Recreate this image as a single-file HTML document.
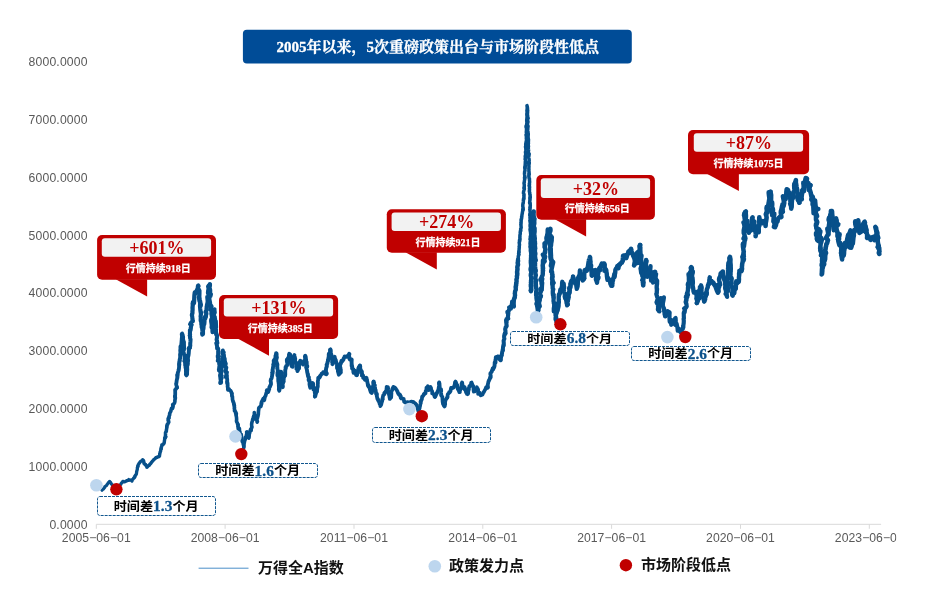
<!DOCTYPE html>
<html lang="zh-CN">
<head>
<meta charset="utf-8">
<title>2005年以来，5次重磅政策出台与市场阶段性低点</title>
<style>
html,body{margin:0;padding:0;background:#fff;}
body{width:933px;height:596px;overflow:hidden;position:relative;}
svg{position:absolute;left:0;top:0;display:block;will-change:transform;}
text{font-kerning:normal;}
.ax{font-family:"Liberation Sans",sans-serif;font-size:12.2px;letter-spacing:.17px;fill:#595959;}
.axx{letter-spacing:.04px;}
.lab{font-family:"Liberation Serif","Noto Sans CJK SC",sans-serif;font-weight:700;font-size:13.15px;fill:#000;}
.num{font-family:"Liberation Serif",serif;fill:#0d528b;stroke:#0d528b;stroke-width:.3px;font-size:15.4px;}
.pct{font-family:"Liberation Serif",serif;font-weight:700;font-size:18px;fill:#c00000;}
.dur{font-family:"Liberation Serif","Noto Sans CJK SC",sans-serif;font-weight:700;font-size:10px;fill:#fff;stroke:#fff;stroke-width:.25px;}
.dnum{font-family:"Liberation Serif",serif;}
.ttl{font-family:"Liberation Serif","Noto Serif CJK SC",serif;font-weight:700;font-size:15px;fill:#fff;stroke:#fff;stroke-width:.3px;}
.tnum{font-family:"Liberation Serif",serif;}
.leg{font-family:"Liberation Sans","Noto Sans CJK SC",sans-serif;font-weight:700;font-size:15px;fill:#111;}
</style>
</head>
<body>
<svg width="933" height="596" viewBox="0 0 933 596">
<defs><clipPath id="clipr"><rect x="0" y="0" width="896.4" height="596"/></clipPath></defs>
<g clip-path="url(#clipr)">
<text class="ax" x="87.7" y="528.8" text-anchor="end">0.0000</text>
<text class="ax" x="87.7" y="470.9" text-anchor="end">1000.0000</text>
<text class="ax" x="87.7" y="413.1" text-anchor="end">2000.0000</text>
<text class="ax" x="87.7" y="355.2" text-anchor="end">3000.0000</text>
<text class="ax" x="87.7" y="297.4" text-anchor="end">4000.0000</text>
<text class="ax" x="87.7" y="239.5" text-anchor="end">5000.0000</text>
<text class="ax" x="87.7" y="181.6" text-anchor="end">6000.0000</text>
<text class="ax" x="87.7" y="123.8" text-anchor="end">7000.0000</text>
<text class="ax" x="87.7" y="65.9" text-anchor="end">8000.0000</text>
<path d="M96.3 524.3 H881.1" stroke="#d9d9d9" stroke-width="1" fill="none"/>
<path d="M96.3 524.3 v4.5" stroke="#d9d9d9" stroke-width="1" fill="none"/>
<text class="ax axx" x="96.3" y="542" text-anchor="middle">2005−06−01</text>
<path d="M225.1 524.3 v4.5" stroke="#d9d9d9" stroke-width="1" fill="none"/>
<text class="ax axx" x="225.1" y="542" text-anchor="middle">2008−06−01</text>
<path d="M354.0 524.3 v4.5" stroke="#d9d9d9" stroke-width="1" fill="none"/>
<text class="ax axx" x="354.0" y="542" text-anchor="middle">2011−06−01</text>
<path d="M482.8 524.3 v4.5" stroke="#d9d9d9" stroke-width="1" fill="none"/>
<text class="ax axx" x="482.8" y="542" text-anchor="middle">2014−06−01</text>
<path d="M611.6 524.3 v4.5" stroke="#d9d9d9" stroke-width="1" fill="none"/>
<text class="ax axx" x="611.6" y="542" text-anchor="middle">2017−06−01</text>
<path d="M740.5 524.3 v4.5" stroke="#d9d9d9" stroke-width="1" fill="none"/>
<text class="ax axx" x="740.5" y="542" text-anchor="middle">2020−06−01</text>
<path d="M869.3 524.3 v4.5" stroke="#d9d9d9" stroke-width="1" fill="none"/>
<text class="ax axx" x="869.3" y="542" text-anchor="middle">2023−06−01</text>
<g fill="none" stroke="#07508a" stroke-linejoin="round" stroke-linecap="round">
<path d="M102.0 490.2 L102.6 489.6 L102.9 489.2 L103.5 489.0 L104.0 488.1 L104.6 487.6 L104.8 486.8 L105.6 486.1 L106.3 485.7 L106.9 484.9 L107.2 484.3 L107.8 483.7 L108.2 482.9 L108.8 482.6 L109.1 482.1" stroke-width="3.22"/>
<path d="M109.1 482.1 L109.7 481.5 L110.5 482.4 L110.9 483.1 L111.4 484.0 L112.1 484.6 L112.4 485.0 L113.0 485.5 L113.7 486.3 L114.7 486.6 L115.2 487.3 L116.4 487.6 L117.2 487.8 L117.5 487.2 L118.2 486.6" stroke-width="3.22"/>
<path d="M118.2 486.6 L119.0 486.3 L119.6 485.4 L120.0 485.1 L120.7 484.5 L121.0 483.8 L121.6 483.0 L122.4 482.2 L122.8 481.3 L123.6 481.6 L124.5 481.8 L125.0 481.8 L125.9 481.1 L126.5 481.1 L127.1 480.6" stroke-width="3.24"/>
<path d="M127.1 480.6 L128.1 480.2 L128.7 479.6 L129.2 480.3 L130.1 480.0 L130.6 480.2 L131.1 480.1 L132.0 481.0 L132.3 480.0 L132.8 479.2 L133.3 479.0 L133.6 478.1 L134.5 477.7 L134.7 477.2 L134.9 476.6" stroke-width="3.26"/>
<path d="M134.9 476.6 L134.9 476.0 L135.6 475.2 L135.8 474.9 L136.3 474.3 L136.4 473.3 L136.6 472.8 L136.6 471.8 L136.8 470.9 L137.0 470.8 L137.1 469.9 L137.4 469.0 L137.3 468.0 L137.6 466.9 L137.9 466.5" stroke-width="3.30"/>
<path d="M137.9 466.5 L137.8 465.8 L138.1 465.3 L138.2 464.7 L138.5 464.4 L139.0 463.4 L139.6 462.8 L140.3 461.8 L141.0 461.1 L141.3 461.0 L141.6 461.0 L142.2 460.8 L142.7 459.7 L143.2 460.5 L143.6 460.9" stroke-width="3.35"/>
<path d="M143.6 460.9 L143.7 461.8 L143.9 462.4 L143.9 463.4 L144.5 463.6 L144.9 464.4 L145.6 464.4 L145.7 465.1 L146.2 465.9 L146.8 466.4 L146.8 467.3 L147.4 466.9 L147.9 466.3 L148.6 465.5 L149.0 465.3" stroke-width="3.34"/>
<path d="M149.0 465.3 L149.7 464.8 L150.0 464.1 L150.4 463.6 L150.8 463.6 L151.3 462.6 L151.7 462.1 L152.5 461.2 L152.9 460.6 L153.5 460.2 L153.7 459.7 L154.5 459.2 L155.3 458.2 L156.0 458.0 L156.4 457.5" stroke-width="3.36"/>
<path d="M156.4 457.5 L157.2 457.4 L157.5 457.0 L158.5 456.6 L159.0 456.6 L159.5 456.0 L159.6 455.0 L159.9 453.4 L160.0 452.7 L160.2 452.2 L160.4 451.5 L160.7 451.0 L160.6 450.2 L160.8 449.7 L161.2 448.6" stroke-width="3.40"/>
<path d="M161.2 448.6 L161.3 447.1 L161.8 446.3 L161.8 445.0 L162.2 444.9 L162.8 444.3 L163.4 444.2 L163.8 443.7 L163.9 443.5 L164.2 442.9 L164.4 441.0 L164.7 439.3 L164.7 437.8 L165.4 437.8 L165.3 437.3" stroke-width="3.46"/>
<path d="M165.3 437.3 L165.9 436.7 L165.6 436.4 L165.4 435.6 L165.5 434.6 L165.5 433.6 L165.5 432.6 L165.8 431.9 L166.1 431.9 L166.1 431.2 L166.4 430.9 L166.4 429.9 L166.7 428.6 L166.7 428.1 L166.8 426.7" stroke-width="3.52"/>
<path d="M166.8 426.7 L166.9 425.7 L167.2 424.5 L167.3 424.7 L167.4 424.4 L167.6 424.6 L168.2 423.1 L168.5 422.5 L168.8 422.3 L168.6 420.9 L168.1 420.5 L168.2 419.8 L168.1 419.0 L168.3 418.2 L168.9 418.1" stroke-width="3.58"/>
<path d="M168.9 418.1 L168.9 417.2 L169.2 415.9 L169.7 414.8 L169.6 414.0 L169.9 412.9 L170.2 412.5 L170.8 411.4 L171.0 410.2 L171.5 408.4 L171.7 408.7 L172.1 408.7 L172.3 408.6 L172.8 407.6 L172.9 406.1" stroke-width="3.64"/>
<path d="M172.9 406.1 L172.7 404.5 L173.4 404.4 L174.0 403.6 L174.3 403.2 L174.7 402.2 L174.9 401.1 L174.9 400.1 L175.1 399.3 L175.1 398.8 L175.3 398.3 L175.3 397.6 L175.0 396.6 L174.8 396.4 L174.9 396.6" stroke-width="3.71"/>
<path d="M174.9 396.6 L175.1 396.2 L175.1 396.4 L175.2 394.4 L175.2 391.8 L175.1 389.7 L175.6 389.5 L176.0 388.9 L176.4 388.2 L176.6 388.0 L176.5 388.2 L176.8 388.0 L176.7 388.0 L177.0 387.8 L177.0 387.6" stroke-width="3.76"/>
<path d="M177.0 387.6 L176.9 386.8 L176.3 385.0 L176.1 383.9 L176.4 382.9 L176.7 380.5 L177.1 378.7 L177.3 378.3 L177.5 377.0 L177.2 375.4 L177.4 376.1 L177.2 376.6 L177.2 377.6 L177.6 375.8 L177.4 374.8" stroke-width="3.82"/>
<path d="M177.4 374.8 L177.8 373.6 L177.8 372.9 L178.4 371.0 L178.6 370.0 L178.7 370.5 L178.5 370.5 L178.6 370.8 L178.7 370.2 L178.6 369.7 L178.9 369.1 L179.0 367.8 L179.1 366.5 L179.1 365.5 L179.3 364.6" stroke-width="3.88"/>
<path d="M179.3 364.6 L179.1 364.1 L179.1 363.2 L179.3 362.8 L179.3 362.1 L179.4 361.2 L179.6 361.2 L179.9 360.8 L179.6 360.8 L179.7 359.6 L180.1 358.2 L180.2 356.7 L180.2 355.9 L180.3 355.8 L180.3 354.7" stroke-width="3.94"/>
<path d="M180.3 354.7 L180.4 353.4 L180.4 353.3 L180.5 352.5 L180.3 350.1 L180.7 349.2 L180.5 346.5 L180.5 347.9 L180.5 348.3 L180.6 349.5 L181.3 348.8 L181.8 347.3 L182.3 347.1 L181.9 344.5 L181.6 344.5" stroke-width="4.00"/>
<path d="M181.6 344.5 L181.5 343.9 L181.6 342.1 L181.9 338.8 L182.0 337.3 L182.2 336.4 L182.5 337.7 L183.0 337.6 L183.1 336.9 L182.7 337.6 L182.8 336.8 L182.6 335.0 L182.1 333.7 L181.8 334.1 L182.0 335.6" stroke-width="4.06"/>
<path d="M182.0 335.6 L182.7 337.2 L183.0 339.0 L183.2 340.1 L183.2 341.7 L183.3 343.3 L183.4 342.4 L183.6 341.3 L183.9 342.0 L183.9 343.8 L184.0 346.6 L184.0 348.3 L183.9 348.1 L183.8 348.4 L183.9 349.0" stroke-width="4.03"/>
<path d="M183.9 349.0 L183.6 349.3 L183.8 350.0 L183.4 350.4 L183.4 351.0 L183.5 352.7 L183.8 353.0 L184.0 354.4 L184.4 354.9 L184.4 355.7 L184.8 356.4 L184.6 356.8 L184.9 357.7 L184.6 358.1 L184.8 360.1" stroke-width="3.97"/>
<path d="M184.8 360.1 L184.3 361.1 L184.7 360.7 L184.7 360.5 L185.2 360.8 L185.0 361.7 L185.0 362.2 L185.1 363.0 L185.2 365.5 L185.7 366.3 L185.5 367.4 L185.9 368.4 L185.9 368.3 L185.9 368.8 L186.0 368.9" stroke-width="3.91"/>
<path d="M186.0 368.9 L186.0 369.8 L185.9 369.6 L185.9 370.9 L186.0 372.5 L185.9 374.5 L186.4 375.4 L186.9 374.7 L187.1 374.3 L187.1 372.7 L187.2 370.5 L187.3 369.5 L187.2 368.0 L187.2 367.0 L187.0 365.8" stroke-width="3.87"/>
<path d="M187.0 365.8 L187.2 365.6 L187.3 365.8 L187.6 365.1 L187.8 364.4 L187.9 363.3 L187.9 363.0 L187.8 362.0 L188.0 361.3 L187.9 360.6 L188.2 360.7 L188.1 360.7 L188.1 360.6 L187.9 358.6 L187.9 356.8" stroke-width="3.92"/>
<path d="M187.9 356.8 L187.7 355.2 L187.9 355.5 L188.1 355.5 L188.4 355.7 L188.7 353.5 L188.8 351.8 L189.0 349.3 L188.7 348.8 L188.7 348.4 L188.5 348.7 L188.8 348.0 L189.3 348.3 L189.9 348.0 L189.8 347.8" stroke-width="3.99"/>
<path d="M189.8 347.8 L189.9 347.1 L190.0 346.5 L190.3 345.8 L190.2 344.1 L190.3 343.5 L190.2 343.8 L190.4 341.9 L190.5 339.9 L190.6 339.9 L190.4 338.9 L190.1 338.0 L190.0 337.9 L190.2 336.7 L189.8 335.8" stroke-width="4.04"/>
<path d="M189.8 335.8 L190.0 335.8 L189.8 335.3 L190.1 334.4 L189.9 333.7 L190.0 332.0 L189.9 330.3 L190.2 330.1 L190.4 330.5 L190.6 330.0 L190.9 328.2 L190.6 328.1 L190.9 327.6 L191.0 326.7 L191.3 324.7" stroke-width="4.10"/>
<path d="M191.3 324.7 L191.6 324.7 L191.2 324.3 L190.6 323.6 L190.1 324.2 L190.9 322.8 L192.0 321.5 L192.8 321.1 L192.9 320.4 L192.9 321.2 L192.7 320.8 L192.4 318.9 L192.3 317.3 L192.0 315.3 L191.9 314.8" stroke-width="4.16"/>
<path d="M191.9 314.8 L192.4 313.3 L192.5 311.8 L192.4 311.2 L192.5 310.7 L192.6 310.3 L192.6 310.0 L192.6 309.1 L192.5 307.9 L192.6 307.5 L192.7 307.7 L192.5 307.2 L192.6 307.0 L192.8 304.5 L192.8 303.4" stroke-width="4.23"/>
<path d="M192.8 303.4 L193.0 302.7 L193.0 302.8 L192.9 302.1 L193.2 302.2 L193.7 302.1 L194.0 303.1 L194.2 299.7 L194.4 295.4 L194.8 292.4 L195.0 292.9 L195.4 292.4 L195.6 292.6 L195.4 293.1 L195.6 293.1" stroke-width="4.29"/>
<path d="M195.6 293.1 L195.8 293.2 L196.1 292.9 L196.4 291.3 L196.7 291.2 L197.1 289.6 L197.4 289.8 L197.5 289.4 L197.8 288.4 L198.0 285.9 L198.5 286.1 L198.2 285.6 L197.9 287.1 L197.9 288.6 L198.1 289.4" stroke-width="4.34"/>
<path d="M198.1 289.4 L198.6 289.6 L198.7 290.1 L199.2 290.2 L199.2 290.7 L199.4 290.6 L199.4 293.2 L199.3 296.6 L199.3 299.0 L199.1 298.3 L199.1 297.1 L199.2 296.4 L199.1 297.0 L199.0 296.8 L199.0 297.9" stroke-width="4.31"/>
<path d="M199.0 297.9 L199.2 298.2 L199.5 299.3 L199.4 300.1 L199.6 301.4 L200.1 301.1 L200.4 302.8 L200.6 304.0 L200.8 304.3 L200.9 305.3 L200.7 304.3 L200.3 303.4 L200.1 302.0 L200.1 304.2 L200.0 306.0" stroke-width="4.27"/>
<path d="M200.0 306.0 L200.2 308.7 L200.4 310.6 L200.7 312.5 L200.8 313.2 L200.8 312.7 L200.8 312.5 L200.9 311.8 L201.0 313.6 L200.9 314.2 L200.6 316.5 L200.8 317.4 L200.7 319.6 L200.7 320.7 L201.3 320.9" stroke-width="4.20"/>
<path d="M201.3 320.9 L201.4 321.8 L201.3 322.3 L201.7 323.7 L201.9 324.4 L202.1 325.8 L201.6 324.8 L201.5 323.4 L201.4 322.2 L201.3 324.1 L201.6 325.4 L201.7 327.5 L202.1 327.6 L202.4 329.0 L202.6 329.3" stroke-width="4.14"/>
<path d="M202.6 329.3 L202.4 330.6 L202.3 332.0 L202.1 333.4 L202.3 334.6 L202.5 334.2 L203.0 334.0 L203.0 330.8 L203.1 327.9 L203.6 324.8 L203.6 326.4 L203.4 327.6 L203.4 329.1 L203.6 326.8 L203.4 324.6" stroke-width="4.11"/>
<path d="M203.4 324.6 L203.6 322.1 L203.6 322.5 L204.0 323.5 L204.3 324.0 L204.5 321.8 L204.5 320.4 L204.8 317.2 L204.8 317.7 L205.2 318.0 L205.2 318.5 L205.4 318.2 L205.1 318.8 L205.0 318.6 L205.8 316.6" stroke-width="4.16"/>
<path d="M205.8 316.6 L205.9 315.5 L206.4 313.7 L206.2 312.6 L205.7 312.2 L205.5 312.1 L205.6 311.8 L206.2 310.7 L206.6 310.0 L206.5 309.0 L206.6 308.8 L206.7 306.5 L207.0 306.0 L207.1 305.6 L207.5 304.6" stroke-width="4.22"/>
<path d="M207.5 304.6 L207.4 305.7 L207.0 305.6 L207.0 304.8 L207.3 304.7 L207.6 301.9 L207.8 302.2 L207.6 300.1 L207.5 298.9 L207.3 296.9 L207.8 298.6 L208.1 299.3 L208.5 301.1 L208.7 297.4 L208.7 293.9" stroke-width="4.27"/>
<path d="M208.7 293.9 L209.3 290.2 L208.7 291.0 L208.6 291.9 L208.0 292.9 L208.3 290.3 L208.5 289.6 L208.6 288.2 L208.5 287.6 L208.3 286.7 L208.2 286.5 L208.7 285.9 L209.1 286.2 L209.7 284.4 L209.9 284.8" stroke-width="4.34"/>
<path d="M209.9 284.8 L209.9 284.4 L209.9 284.8 L209.6 287.1 L209.6 286.5 L209.4 287.9 L209.3 286.8 L208.9 287.3 L209.0 285.8 L209.3 287.2 L209.4 288.4 L209.9 289.2 L210.1 290.0 L210.1 293.1 L210.6 294.2" stroke-width="4.35"/>
<path d="M210.6 294.2 L210.4 294.6 L210.7 294.6 L210.5 294.9 L210.5 295.9 L210.5 294.7 L210.5 296.1 L210.0 295.8 L209.6 296.9 L209.3 298.3 L209.4 299.6 L210.0 302.8 L210.2 305.9 L210.4 305.8 L211.0 306.6" stroke-width="4.29"/>
<path d="M211.0 306.6 L211.5 306.3 L210.8 307.2 L210.3 309.8 L210.2 309.3 L210.7 309.4 L211.0 307.7 L211.3 307.9 L211.6 308.8 L211.9 310.1 L212.0 312.0 L211.9 312.4 L211.5 311.9 L211.5 312.2 L211.6 313.9" stroke-width="4.22"/>
<path d="M211.6 313.9 L211.7 315.3 L212.0 317.7 L211.9 319.2 L211.6 320.6 L211.4 322.2 L211.1 320.8 L211.3 319.6 L211.2 319.6 L211.2 321.6 L211.6 324.0 L211.8 326.2 L211.8 326.8 L212.0 327.3 L211.7 327.0" stroke-width="4.16"/>
<path d="M211.7 327.0 L211.8 328.0 L212.0 327.7 L212.0 327.9 L212.1 327.4 L212.3 327.2 L212.5 326.6 L212.5 329.9 L212.4 329.7 L212.5 332.2 L212.5 330.0 L212.4 328.6 L212.8 327.0 L213.0 326.0 L212.8 324.6" stroke-width="4.12"/>
<path d="M212.8 324.6 L212.9 324.0 L212.8 323.5 L213.1 323.1 L213.1 323.3 L213.4 322.6 L213.8 321.5 L214.0 321.5 L213.9 320.7 L213.7 321.1 L213.3 320.7 L213.4 317.6 L213.5 316.7 L213.5 313.4 L213.5 314.0" stroke-width="4.16"/>
<path d="M213.5 314.0 L213.5 315.9 L213.7 315.8 L213.6 315.3 L213.5 315.0 L213.4 314.2 L213.8 312.8 L214.3 313.3 L214.7 312.4 L214.4 309.8 L214.5 309.3 L214.1 309.8 L214.0 309.6 L214.1 310.5 L213.7 310.3" stroke-width="4.21"/>
<path d="M213.7 310.3 L214.1 312.4 L213.9 314.7 L214.2 316.7 L214.3 317.0 L214.5 316.8 L214.8 317.0 L214.8 317.6 L214.8 319.1 L215.0 318.5 L215.1 321.3 L215.3 322.5 L215.7 323.6 L215.3 322.5 L215.2 323.5" stroke-width="4.18"/>
<path d="M215.2 323.5 L215.1 322.3 L215.1 322.4 L215.4 321.9 L215.8 321.3 L215.8 322.8 L216.0 325.4 L216.1 327.5 L215.8 326.3 L215.6 327.7 L215.7 326.8 L216.0 329.3 L215.9 331.3 L216.2 333.4 L216.2 333.7" stroke-width="4.13"/>
<path d="M216.2 333.7 L216.4 335.0 L216.5 334.9 L216.8 335.1 L217.0 335.1 L217.0 335.5 L217.0 336.6 L216.9 338.2 L216.6 339.4 L216.7 339.9 L216.9 341.0 L217.4 343.0 L216.8 343.0 L216.9 342.9 L216.5 343.2" stroke-width="4.06"/>
<path d="M216.5 343.2 L216.8 345.3 L217.0 345.7 L217.1 348.4 L217.3 347.7 L217.6 347.7 L218.1 348.5 L218.2 348.9 L218.1 351.2 L218.4 351.9 L218.1 352.9 L218.3 354.4 L218.2 354.6 L217.8 355.7 L217.8 357.0" stroke-width="3.99"/>
<path d="M217.8 357.0 L218.1 357.1 L218.3 356.2 L218.5 356.2 L219.0 356.2 L218.3 357.6 L218.2 359.1 L217.7 360.9 L218.0 360.0 L218.2 359.2 L218.5 359.2 L218.6 360.3 L219.0 361.1 L219.5 362.2 L219.3 363.8" stroke-width="3.94"/>
<path d="M219.3 363.8 L219.5 362.7 L219.5 363.7 L219.5 365.2 L219.2 367.3 L218.9 370.5 L219.1 369.8 L218.8 369.3 L219.1 369.6 L219.3 370.5 L219.9 371.6 L220.6 372.9 L220.3 374.2 L220.5 374.6 L220.2 375.3" stroke-width="3.88"/>
<path d="M220.2 375.3 L220.2 376.0 L220.1 376.8 L220.3 377.3 L220.4 378.3 L220.3 378.9 L220.6 379.5 L220.7 380.8 L221.2 381.9 L221.1 382.6 L221.0 382.8 L220.5 382.5 L220.1 383.0 L220.6 380.9 L220.9 379.7" stroke-width="3.82"/>
<path d="M220.9 379.7 L221.8 377.7 L221.7 377.6 L221.5 376.5 L221.8 375.8 L221.5 376.0 L221.0 375.6 L220.6 375.2 L221.1 373.6 L221.5 372.3 L222.0 370.9 L221.8 369.9 L221.5 368.2 L221.0 367.0 L221.4 367.6" stroke-width="3.86"/>
<path d="M221.4 367.6 L222.0 366.1 L222.4 366.2 L222.3 365.8 L222.1 366.2 L222.1 366.0 L222.7 363.6 L222.9 361.5 L223.2 359.2 L222.8 360.1 L222.4 359.6 L222.2 358.7 L222.1 358.8 L222.6 360.0 L222.5 359.2" stroke-width="3.92"/>
<path d="M222.5 359.2 L222.6 358.4 L223.0 357.3 L223.2 356.6 L223.1 355.2 L222.8 353.6 L222.3 353.2 L222.5 352.8 L222.6 352.8 L222.4 352.1 L222.8 350.5 L223.0 351.9 L222.9 352.2 L223.3 352.0 L223.3 352.7" stroke-width="3.97"/>
<path d="M223.3 352.7 L223.7 352.6 L223.7 352.4 L223.4 353.2 L223.5 353.8 L223.9 354.9 L224.0 356.7 L224.3 357.9 L224.7 358.7 L224.8 360.9 L224.8 362.5 L224.7 362.1 L224.8 362.0 L225.1 361.7 L225.1 362.7" stroke-width="3.95"/>
<path d="M225.1 362.7 L225.4 363.5 L225.8 363.4 L225.7 364.4 L225.5 365.2 L225.4 366.2 L225.6 366.9 L225.9 367.2 L226.4 367.6 L226.0 368.8 L225.9 370.7 L225.8 372.1 L226.2 372.2 L226.5 372.2 L226.8 372.3" stroke-width="3.89"/>
<path d="M226.8 372.3 L226.4 374.3 L226.0 375.7 L225.8 377.2 L226.2 377.0 L226.5 376.4 L226.9 375.0 L226.9 377.6 L227.2 379.5 L227.2 381.8 L227.0 381.7 L227.1 382.3 L227.1 382.8 L227.4 382.4 L227.4 383.3" stroke-width="3.83"/>
<path d="M227.4 383.3 L227.4 383.3 L227.7 385.1 L227.6 386.5 L228.0 388.7 L227.8 388.9 L227.9 389.6 L228.0 389.9 L228.1 389.9 L228.6 389.6 L229.0 389.0 L229.6 390.2 L230.5 390.6 L231.3 392.2 L231.8 393.5" stroke-width="3.77"/>
<path d="M231.8 393.5 L231.9 394.6 L231.9 395.9 L232.0 396.3 L232.4 396.4 L232.4 396.8 L232.5 398.8 L232.5 399.4 L232.8 400.7 L233.1 401.6 L233.1 401.7 L233.7 402.7 L233.8 403.9 L233.9 404.4 L234.2 404.9" stroke-width="3.71"/>
<path d="M234.2 404.9 L234.4 405.7 L234.2 406.3 L234.5 407.5 L234.3 408.3 L234.6 409.4 L234.5 410.8 L235.1 410.8 L235.2 411.6 L235.7 412.0 L235.6 412.9 L235.9 413.5 L236.0 414.4 L236.1 414.0 L236.3 414.1" stroke-width="3.65"/>
<path d="M236.3 414.1 L236.3 413.6 L236.2 415.9 L236.5 417.3 L236.6 419.0 L236.6 420.1 L236.5 420.8 L236.6 421.8 L236.8 421.8 L236.8 422.3 L237.1 422.4 L237.4 423.2 L237.5 424.0 L238.2 424.3 L238.0 425.9" stroke-width="3.59"/>
<path d="M238.0 425.9 L238.1 427.5 L238.2 428.9 L238.6 428.2 L238.7 428.2 L239.0 427.9 L239.5 428.9 L239.5 430.8 L240.0 431.9 L240.2 433.6 L240.3 434.3 L240.5 435.5 L241.0 435.5 L241.0 435.3 L241.3 434.7" stroke-width="3.53"/>
<path d="M241.3 434.7 L241.4 435.7 L241.9 437.4 L242.1 438.7 L242.0 439.5 L242.1 440.8 L242.3 441.8 L242.6 441.7 L242.6 442.2 L243.1 442.6 L243.0 443.6 L243.4 444.6 L243.5 445.5 L243.7 446.2 L243.7 447.0" stroke-width="3.47"/>
<path d="M243.7 447.0 L243.7 448.1 L243.9 447.1 L244.0 445.8 L244.1 444.2 L244.2 443.7 L244.2 443.2 L244.4 442.7 L244.5 441.8 L244.5 441.6 L244.8 440.9 L244.9 440.1 L245.3 439.6 L245.3 439.2 L245.5 437.6" stroke-width="3.46"/>
<path d="M245.5 437.6 L245.7 436.7 L246.2 435.7 L246.4 435.2 L246.5 434.3 L246.8 433.5 L246.6 432.1 L246.9 431.7 L246.7 431.8 L247.3 433.1 L247.8 433.6 L248.3 434.6 L248.3 435.6 L248.8 437.0 L248.7 438.0" stroke-width="3.51"/>
<path d="M248.7 438.0 L249.0 436.9 L249.2 435.9 L249.3 434.5 L249.4 433.9 L249.8 432.7 L249.8 431.2 L250.2 431.3 L250.3 430.3 L250.5 429.6 L250.8 429.8 L250.8 430.4 L251.2 430.5 L251.2 429.2 L251.5 428.0" stroke-width="3.53"/>
<path d="M251.5 428.0 L252.0 427.0 L251.7 426.2 L251.7 425.7 L251.6 424.1 L251.9 422.4 L252.3 421.0 L252.8 418.9 L252.8 419.0 L253.2 419.4 L253.4 419.6 L253.3 419.1 L253.5 418.0 L253.5 417.3 L253.6 416.6" stroke-width="3.59"/>
<path d="M253.6 416.6 L254.0 416.6 L254.0 415.7 L254.2 415.0 L254.4 413.9 L254.3 412.5 L254.3 412.9 L254.3 413.3 L254.7 414.3 L254.7 415.4 L255.1 415.9 L255.2 416.8 L255.5 416.6 L255.4 416.7 L255.6 416.3" stroke-width="3.62"/>
<path d="M255.6 416.3 L256.2 418.4 L256.8 420.0 L257.4 421.5 L257.1 422.1 L257.0 421.2 L256.7 419.9 L257.0 419.0 L257.4 418.4 L257.6 416.8 L257.9 416.7 L257.9 416.6 L257.8 416.6 L257.7 415.8 L257.8 415.5" stroke-width="3.60"/>
<path d="M257.8 415.5 L258.3 414.5 L258.4 412.4 L258.5 411.1 L258.8 409.1 L258.7 408.4 L258.8 408.3 L258.9 407.7 L259.4 407.2 L260.0 406.8 L260.7 406.5 L260.9 406.4 L261.1 405.4 L261.2 404.3 L261.5 403.9" stroke-width="3.66"/>
<path d="M261.5 403.9 L261.4 402.3 L261.6 402.1 L262.2 401.0 L262.7 399.8 L263.2 398.7 L263.4 399.3 L264.0 399.5 L264.3 400.2 L264.4 399.6 L264.7 398.0 L265.0 396.7 L265.6 395.7 L266.1 393.8 L266.6 392.7" stroke-width="3.72"/>
<path d="M266.6 392.7 L266.8 391.6 L266.7 390.6 L266.9 390.1 L267.3 390.4 L267.6 390.9 L268.2 392.0 L268.7 390.6 L268.9 389.9 L269.3 389.1 L269.3 388.5 L269.3 388.1 L269.3 387.3 L269.9 386.7 L270.3 385.8" stroke-width="3.77"/>
<path d="M270.3 385.8 L271.0 384.1 L270.9 382.3 L270.6 381.0 L270.8 379.7 L271.0 379.2 L271.2 379.0 L271.5 378.5 L271.8 377.4 L272.2 375.2 L272.5 373.3 L272.6 373.3 L272.2 373.0 L272.2 373.1 L272.4 372.7" stroke-width="3.84"/>
<path d="M272.4 372.7 L272.6 372.4 L272.6 371.0 L272.9 371.1 L272.7 370.6 L272.5 370.2 L272.9 368.5 L273.0 367.3 L273.4 366.0 L273.4 365.3 L273.1 364.8 L273.2 364.8 L273.5 364.0 L273.8 363.4 L274.2 363.6" stroke-width="3.89"/>
<path d="M274.2 363.6 L273.8 362.6 L273.8 361.5 L273.7 360.8 L274.3 359.8 L274.8 359.4 L275.4 358.3 L275.3 358.2 L275.5 356.8 L275.5 355.9 L276.1 354.6 L276.1 353.2 L276.4 353.3 L276.6 354.2 L276.3 355.1" stroke-width="3.95"/>
<path d="M276.3 355.1 L276.7 356.9 L276.6 356.7 L276.9 357.4 L276.7 358.0 L276.7 357.8 L276.6 358.8 L276.4 358.6 L276.2 359.3 L276.2 360.7 L276.1 361.5 L276.7 362.4 L277.0 363.6 L277.4 364.6 L277.2 365.5" stroke-width="3.94"/>
<path d="M277.2 365.5 L277.2 365.7 L277.1 366.6 L277.4 367.1 L277.2 368.3 L277.5 369.0 L277.7 369.9 L277.8 371.1 L278.2 371.3 L277.8 372.1 L277.5 372.6 L277.5 373.8 L277.4 375.3 L277.9 375.5 L278.0 375.7" stroke-width="3.88"/>
<path d="M278.0 375.7 L278.1 376.2 L278.2 376.2 L278.2 376.7 L278.2 378.4 L278.2 379.6 L278.3 381.4 L278.6 382.1 L278.6 382.8 L278.8 384.6 L279.1 385.0 L278.8 385.3 L278.9 385.3 L278.8 386.4 L279.1 386.4" stroke-width="3.81"/>
<path d="M279.1 386.4 L279.0 387.2 L278.9 388.3 L278.8 389.6 L278.9 389.7 L279.3 390.7 L279.7 389.1 L279.7 387.7 L279.5 386.5 L279.6 385.9 L279.3 384.6 L279.6 384.6 L279.8 384.5 L280.0 384.7 L280.3 383.2" stroke-width="3.78"/>
<path d="M280.3 383.2 L280.2 382.2 L280.4 381.0 L279.9 381.2 L280.0 381.0 L279.6 380.8 L279.6 378.9 L279.8 377.5 L280.2 376.2 L280.2 374.5 L280.5 373.2 L280.6 371.9 L280.7 371.7 L281.0 371.7 L281.0 372.3" stroke-width="3.84"/>
<path d="M281.0 372.3 L281.1 372.6 L281.3 373.0 L281.5 373.5 L281.6 372.8 L281.5 373.1 L281.8 373.4 L281.9 373.0 L281.8 373.4 L281.8 374.3 L281.9 375.2 L281.7 375.8 L281.4 377.4 L281.5 378.5 L281.7 379.4" stroke-width="3.85"/>
<path d="M281.7 379.4 L281.9 380.7 L281.8 382.0 L282.2 382.6 L282.2 382.9 L282.2 383.4 L282.2 384.7 L282.1 384.9 L282.4 386.2 L282.6 387.2 L282.8 387.1 L282.9 386.2 L282.8 385.8 L282.4 384.1 L282.9 383.2" stroke-width="3.80"/>
<path d="M282.9 383.2 L283.3 381.9 L283.8 381.5 L283.6 380.3 L283.7 380.1 L283.7 379.2 L283.8 379.4 L283.7 378.4 L283.6 378.8 L283.9 377.8 L284.4 376.5 L285.2 375.7 L285.1 374.9 L285.3 374.7 L285.2 373.3" stroke-width="3.83"/>
<path d="M285.2 373.3 L285.2 371.9 L285.3 369.6 L285.8 368.3 L285.9 367.9 L285.6 367.6 L285.5 367.2 L286.0 367.0 L286.1 366.2 L286.4 366.1 L287.1 365.3 L287.5 363.7 L287.5 363.0 L287.7 362.9 L287.4 362.5" stroke-width="3.90"/>
<path d="M287.4 362.5 L287.4 361.8 L287.0 361.5 L286.9 360.7 L286.9 359.5 L287.6 359.2 L288.2 357.8 L288.8 357.2 L289.0 356.0 L289.0 354.8 L289.3 353.8 L289.8 354.4 L290.2 354.6 L290.3 356.7 L290.4 356.8" stroke-width="3.95"/>
<path d="M290.4 356.8 L290.3 357.3 L290.5 357.7 L290.3 357.6 L290.3 357.0 L290.3 356.7 L290.8 357.9 L290.9 359.1 L290.8 359.5 L291.0 362.2 L291.3 364.2 L291.8 365.9 L291.6 365.6 L291.5 364.6 L291.2 363.4" stroke-width="3.93"/>
<path d="M291.2 363.4 L291.7 365.6 L292.2 366.6 L292.8 366.7 L292.6 365.5 L292.6 364.7 L292.3 364.6 L292.3 363.1 L292.5 362.0 L292.8 360.7 L293.2 359.1 L293.6 357.2 L293.9 356.6 L294.0 356.6 L294.3 356.5" stroke-width="3.93"/>
<path d="M294.3 356.5 L294.3 356.4 L294.2 355.5 L294.4 355.2 L294.0 356.1 L294.6 356.7 L295.1 358.9 L295.2 358.6 L295.0 360.3 L295.1 360.1 L294.6 361.4 L295.0 360.8 L295.3 361.6 L295.5 362.3 L296.1 363.1" stroke-width="3.94"/>
<path d="M296.1 363.1 L296.3 364.8 L296.9 365.9 L296.5 365.9 L296.7 366.3 L296.8 367.4 L296.6 367.6 L296.6 368.2 L296.4 368.9 L296.9 369.0 L297.4 370.5 L297.5 371.0 L297.9 369.9 L298.3 368.9 L298.6 368.6" stroke-width="3.89"/>
<path d="M298.6 368.6 L298.8 368.7 L299.0 367.8 L299.1 368.1 L299.0 366.4 L299.0 364.5 L298.9 362.7 L299.5 363.0 L299.7 362.1 L300.3 360.7 L301.0 361.7 L302.0 363.4 L302.7 364.0 L303.0 364.5 L303.4 362.7" stroke-width="3.91"/>
<path d="M303.4 362.7 L303.8 361.5 L304.1 360.9 L304.8 360.4 L305.2 360.3 L305.2 358.9 L305.1 357.6 L304.9 356.6 L305.3 356.4 L305.3 355.6 L305.6 357.1 L305.8 357.8 L306.0 360.1 L306.2 361.1 L306.4 361.7" stroke-width="3.94"/>
<path d="M306.4 361.7 L306.7 363.1 L306.7 363.1 L306.7 363.7 L306.6 364.7 L306.2 365.2 L306.5 365.2 L307.2 365.6 L307.3 366.7 L307.0 366.6 L306.8 367.2 L306.1 367.0 L306.9 369.8 L307.2 372.0 L307.8 374.6" stroke-width="3.90"/>
<path d="M307.8 374.6 L307.9 374.4 L307.9 374.6 L307.9 374.6 L307.8 375.2 L308.2 376.7 L308.6 377.5 L308.7 377.9 L308.6 376.8 L308.9 377.0 L308.9 378.1 L308.6 379.5 L308.7 380.2 L308.9 380.5 L309.2 380.1" stroke-width="3.84"/>
<path d="M309.2 380.1 L309.5 380.4 L309.6 381.9 L309.5 384.3 L309.8 386.0 L310.0 386.9 L310.3 387.8 L310.8 387.6 L311.4 385.4 L311.7 384.6 L312.4 382.9 L313.1 383.3 L313.1 384.5 L313.1 385.9 L313.4 386.9" stroke-width="3.80"/>
<path d="M313.4 386.9 L313.4 388.3 L313.4 389.5 L313.7 388.8 L314.7 389.1 L315.1 388.3 L315.1 389.3 L314.9 390.0 L314.5 390.3 L314.8 392.1 L314.7 392.5 L315.1 393.9 L315.1 394.8 L314.8 395.6 L314.9 396.5" stroke-width="3.76"/>
<path d="M314.9 396.5 L315.5 395.8 L315.6 394.9 L315.9 393.4 L316.1 393.6 L316.0 393.3 L315.9 393.3 L316.3 392.3 L316.7 392.0 L317.1 391.6 L317.1 390.3 L317.2 390.0 L317.3 388.5 L317.2 388.8 L317.3 388.0" stroke-width="3.75"/>
<path d="M317.3 388.0 L317.5 387.2 L317.7 386.9 L317.8 386.2 L317.8 385.6 L317.7 385.0 L317.8 384.0 L317.9 383.0 L317.8 381.6 L318.2 379.5 L318.2 377.7 L318.9 377.4 L319.4 377.8 L319.7 377.2 L320.1 376.1" stroke-width="3.81"/>
<path d="M320.1 376.1 L320.5 375.5 L321.2 374.7 L321.7 373.6 L322.5 373.5 L323.1 372.3 L323.8 372.4 L324.5 373.3 L325.1 373.7 L326.3 374.3 L326.5 373.8 L326.9 373.6 L326.5 372.8 L325.8 371.5 L325.3 371.4" stroke-width="3.86"/>
<path d="M325.3 371.4 L325.9 370.1 L326.3 367.6 L326.8 366.6 L326.9 365.8 L326.6 364.9 L326.9 364.3 L327.0 364.0 L327.1 363.9 L327.4 363.5 L327.5 362.4 L327.6 361.9 L328.0 361.2 L327.9 360.1 L328.4 359.5" stroke-width="3.91"/>
<path d="M328.4 359.5 L328.5 359.2 L328.6 357.5 L328.5 357.6 L328.9 356.3 L328.8 355.5 L328.8 354.3 L329.0 353.6 L329.3 353.2 L329.8 352.8 L329.9 353.6 L330.0 352.6 L330.2 351.3 L330.6 350.8 L330.4 349.6" stroke-width="3.97"/>
<path d="M330.4 349.6 L330.2 349.7 L330.1 350.1 L330.4 350.7 L330.5 351.6 L330.7 351.8 L330.6 352.1 L330.9 354.1 L330.8 354.8 L330.7 354.4 L330.9 353.8 L330.9 353.4 L331.4 355.0 L331.6 356.8 L332.0 358.1" stroke-width="3.98"/>
<path d="M332.0 358.1 L332.1 359.9 L332.2 360.3 L332.2 362.6 L332.1 361.7 L332.5 362.1 L332.6 361.9 L332.6 363.6 L332.4 364.2 L332.7 363.9 L333.0 363.2 L333.4 362.0 L333.7 361.6 L334.0 360.4 L333.8 358.6" stroke-width="3.93"/>
<path d="M333.8 358.6 L334.1 357.4 L334.6 356.8 L334.8 358.1 L335.4 359.4 L335.7 359.9 L335.9 360.9 L336.0 361.6 L336.3 362.8 L336.9 363.6 L337.2 364.3 L337.0 366.3 L337.1 365.7 L337.6 367.0 L337.4 367.7" stroke-width="3.93"/>
<path d="M337.4 367.7 L337.1 367.6 L337.3 368.7 L337.5 368.8 L337.6 369.0 L338.0 370.0 L337.9 371.4 L338.2 371.9 L338.2 372.3 L338.6 373.7 L338.8 374.7 L339.5 373.7 L339.9 373.1 L340.3 372.6 L340.6 372.6" stroke-width="3.87"/>
<path d="M340.6 372.6 L340.7 371.5 L340.8 370.5 L340.6 369.5 L340.4 367.8 L340.1 366.7 L339.9 366.0 L340.2 364.6 L340.6 364.2 L340.9 362.6 L341.2 362.7 L341.2 361.7 L341.4 361.0 L342.0 361.2 L342.3 360.9" stroke-width="3.91"/>
<path d="M342.3 360.9 L343.5 359.5 L343.6 358.6 L344.4 357.1 L344.7 356.5 L345.5 356.8 L346.3 356.8 L346.7 356.5 L347.6 355.9 L348.4 355.5 L349.2 353.8 L349.4 353.9 L349.0 355.5 L349.0 356.3 L349.3 357.2" stroke-width="3.96"/>
<path d="M349.3 357.2 L349.3 358.4 L349.9 359.5 L350.5 359.2 L350.9 359.6 L351.7 359.4 L351.6 362.1 L351.7 364.5 L351.7 366.3 L351.8 365.8 L351.6 365.2 L351.7 364.5 L352.0 365.8 L352.2 366.8 L352.3 368.4" stroke-width="3.92"/>
<path d="M352.3 368.4 L352.6 369.0 L352.8 369.1 L353.3 369.3 L353.3 370.7 L353.4 372.0 L353.6 372.9 L354.2 372.5 L355.0 371.3 L355.3 370.8 L355.6 372.7 L355.9 373.7 L356.1 374.9 L356.4 374.7 L356.8 375.1" stroke-width="3.87"/>
<path d="M356.8 375.1 L357.2 373.8 L357.4 373.7 L357.5 373.2 L357.5 372.6 L357.7 372.8 L357.6 372.4 L358.0 372.8 L357.9 371.5 L358.3 368.9 L358.4 368.2 L358.9 367.3 L359.4 367.6 L360.3 367.0 L360.0 365.6" stroke-width="3.88"/>
<path d="M360.0 365.6 L359.7 366.0 L359.3 366.7 L359.7 367.6 L360.3 368.5 L360.5 370.1 L360.8 369.9 L360.9 370.7 L361.0 370.5 L361.5 371.7 L361.9 371.5 L361.9 373.0 L362.0 373.3 L362.2 374.4 L362.0 375.4" stroke-width="3.88"/>
<path d="M362.0 375.4 L362.3 375.4 L362.7 375.5 L363.1 375.6 L363.2 377.8 L364.3 378.5 L365.0 379.8 L365.7 379.6 L366.4 377.7 L366.6 378.3 L366.8 379.5 L367.1 380.8 L367.3 382.0 L367.6 383.2 L367.9 385.1" stroke-width="3.83"/>
<path d="M367.9 385.1 L368.4 385.9 L368.4 386.3 L368.6 386.8 L368.6 385.5 L369.2 386.7 L369.4 387.1 L369.8 388.6 L369.9 389.5 L370.3 390.8 L370.6 391.8 L370.8 392.1 L371.0 392.5 L371.5 392.7 L371.7 392.8" stroke-width="3.77"/>
<path d="M371.7 392.8 L372.0 391.8 L372.4 390.8 L372.5 390.7 L372.6 390.0 L372.5 389.3 L372.5 389.4 L372.5 388.7 L372.4 388.2 L372.6 387.0 L372.9 387.1 L373.0 385.9 L373.4 384.8 L373.2 383.1 L373.6 381.6" stroke-width="3.78"/>
<path d="M373.6 381.6 L373.5 381.9 L373.9 382.6 L374.2 382.9 L374.0 383.2 L374.0 383.9 L374.0 385.7 L374.4 385.4 L374.5 384.9 L374.9 385.2 L374.8 385.9 L374.9 387.0 L375.0 387.5 L374.8 388.1 L375.1 388.7" stroke-width="3.79"/>
<path d="M375.1 388.7 L375.2 389.2 L375.7 390.2 L375.9 391.9 L376.1 394.1 L376.4 393.6 L376.8 393.6 L376.7 393.6 L377.0 394.5 L376.8 396.4 L377.0 397.0 L377.1 397.1 L377.2 397.7 L377.3 397.9 L377.5 398.7" stroke-width="3.74"/>
<path d="M377.5 398.7 L377.7 399.6 L378.3 399.8 L378.4 401.1 L379.2 402.0 L379.6 404.0 L379.9 404.3 L380.2 404.8 L380.4 406.1 L381.1 404.9 L381.5 403.4 L381.7 402.5 L382.2 401.2 L382.3 399.9 L382.4 399.3" stroke-width="3.70"/>
<path d="M382.4 399.3 L382.5 399.3 L382.4 398.9 L382.8 399.1 L382.7 397.3 L382.9 396.9 L383.2 395.2 L383.5 395.0 L384.2 394.4 L384.7 393.7 L384.4 393.5 L384.6 393.4 L384.2 393.3 L384.9 392.2 L385.8 391.6" stroke-width="3.73"/>
<path d="M385.8 391.6 L386.4 390.6 L386.5 388.9 L386.7 387.7 L386.6 386.9 L387.1 387.2 L387.9 387.1 L388.2 388.9 L387.7 389.1 L387.5 388.8 L387.4 388.7 L387.8 389.6 L388.1 391.0 L388.2 392.2 L388.1 391.8" stroke-width="3.77"/>
<path d="M388.1 391.8 L388.5 392.4 L388.3 392.5 L388.7 393.0 L388.8 393.9 L389.2 395.5 L389.2 395.4 L389.4 395.3 L389.2 395.0 L389.6 397.7 L389.8 398.4 L389.8 398.9 L390.5 398.1 L390.8 397.8 L391.2 397.0" stroke-width="3.73"/>
<path d="M391.2 397.0 L391.3 394.9 L391.4 393.4 L391.4 391.5 L392.0 390.4 L392.3 389.7 L392.4 388.6 L392.9 388.0 L393.4 386.9 L393.8 387.2 L393.7 387.1 L393.9 387.4 L394.3 388.2 L394.6 388.2 L394.8 388.1" stroke-width="3.77"/>
<path d="M394.8 388.1 L395.1 387.8 L395.8 388.7 L396.2 389.6 L396.8 390.2 L396.9 390.6 L397.4 391.4 L397.6 391.6 L397.7 392.5 L398.2 393.5 L398.6 394.1 L399.1 394.3 L399.5 395.0 L399.9 394.6 L400.6 396.0" stroke-width="3.76"/>
<path d="M400.6 396.0 L400.6 397.6 L401.2 398.5 L402.1 398.3 L402.7 398.8 L403.7 398.8 L403.6 399.5 L404.2 400.9 L404.0 401.5 L405.0 402.4 L406.2 402.7 L406.9 402.1 L407.7 402.1 L408.5 403.5 L409.1 402.8" stroke-width="3.71"/>
<path d="M409.1 402.8 L409.7 402.5 L410.7 401.8 L411.7 401.6 L412.1 402.3 L413.1 401.8 L413.8 402.3 L414.3 402.8 L415.1 403.3 L416.1 404.5 L416.5 404.7 L416.5 405.2 L416.9 405.7 L417.3 407.0 L417.8 409.1" stroke-width="3.69"/>
<path d="M417.8 409.1 L418.3 410.1 L418.2 411.1 L418.2 410.9 L418.4 410.7 L418.8 410.3 L419.1 409.5 L419.7 408.0 L419.5 407.6 L419.9 407.0 L420.2 405.5 L420.2 404.8 L420.5 404.1 L420.6 403.4 L420.7 402.5" stroke-width="3.67"/>
<path d="M420.7 402.5 L420.5 401.5 L420.9 400.7 L421.3 400.6 L421.6 399.7 L421.9 399.2 L421.9 398.6 L422.0 398.2 L422.0 397.0 L422.2 396.6 L422.7 396.4 L423.2 395.7 L423.4 395.3 L423.8 394.4 L424.2 393.9" stroke-width="3.72"/>
<path d="M424.2 393.9 L424.5 393.9 L424.8 393.6 L425.5 393.3 L425.7 391.0 L426.4 389.9 L426.5 387.7 L427.1 387.2 L427.4 387.1 L427.8 386.3 L427.8 386.9 L428.2 388.7 L428.7 390.1 L429.1 389.2 L429.8 387.9" stroke-width="3.77"/>
<path d="M429.8 387.9 L430.4 386.9 L431.0 387.9 L431.2 389.5 L431.8 390.6 L432.1 391.1 L432.3 392.2 L432.1 393.3 L433.1 393.5 L433.8 394.6 L434.3 395.3 L434.4 395.5 L434.5 396.6 L434.9 397.1 L435.5 396.0" stroke-width="3.75"/>
<path d="M435.5 396.0 L435.8 395.0 L436.3 394.4 L436.6 393.5 L436.6 393.1 L437.0 393.1 L437.5 391.5 L437.7 391.4 L438.4 389.9 L438.2 390.0 L438.5 389.2 L438.6 388.4 L439.0 386.1 L439.1 385.3 L439.0 383.1" stroke-width="3.76"/>
<path d="M439.0 383.1 L439.2 382.4 L439.6 384.2 L439.5 384.8 L439.7 386.2 L439.6 388.0 L439.7 388.4 L440.5 389.0 L440.5 389.6 L441.0 389.2 L441.2 390.5 L441.2 391.2 L441.0 391.7 L441.1 393.0 L441.3 394.8" stroke-width="3.78"/>
<path d="M441.3 394.8 L441.3 395.5 L441.7 396.2 L441.8 396.3 L442.4 396.9 L442.4 397.9 L442.4 398.4 L442.5 400.0 L442.6 401.3 L442.6 401.9 L443.1 402.6 L442.8 403.5 L443.4 403.7 L443.3 404.5 L443.8 405.1" stroke-width="3.71"/>
<path d="M443.8 405.1 L444.0 405.8 L444.5 406.5 L444.8 406.1 L445.0 404.7 L445.2 404.4 L445.1 402.4 L445.2 401.7 L445.3 400.2 L445.7 400.1 L445.6 399.7 L445.9 399.2 L446.2 399.2 L446.8 398.1 L447.1 397.7" stroke-width="3.70"/>
<path d="M447.1 397.7 L447.6 396.9 L447.6 395.2 L447.9 394.0 L448.2 393.8 L448.7 393.4 L449.1 392.3 L449.6 392.7 L449.9 391.9 L450.2 391.7 L450.5 391.1 L450.8 389.2 L451.1 388.0 L451.6 388.3 L452.2 387.8" stroke-width="3.75"/>
<path d="M452.2 387.8 L452.8 387.8 L453.2 387.7 L453.5 387.5 L454.0 387.2 L454.3 385.9 L454.8 384.5 L455.0 382.3 L455.5 382.1 L455.6 381.5 L456.0 382.7 L456.0 383.6 L456.2 383.3 L456.6 384.3 L457.2 385.4" stroke-width="3.80"/>
<path d="M457.2 385.4 L457.6 386.8 L457.8 388.5 L458.2 388.8 L457.9 389.3 L458.3 388.7 L458.5 390.2 L459.1 391.3 L459.3 392.2 L459.8 391.6 L459.9 392.1 L459.8 391.0 L460.2 390.1 L460.0 389.7 L460.3 389.3" stroke-width="3.77"/>
<path d="M460.3 389.3 L460.8 388.5 L461.2 387.0 L461.4 386.7 L461.6 385.1 L461.6 383.7 L462.1 382.4 L462.2 382.9 L462.5 385.1 L462.8 387.1 L463.3 387.6 L463.8 387.9 L464.1 388.8 L464.3 388.2 L464.5 387.4" stroke-width="3.79"/>
<path d="M464.5 387.4 L464.4 387.2 L465.1 388.7 L465.7 390.9 L466.1 392.5 L466.5 392.5 L466.9 393.9 L467.1 393.3 L467.6 394.2 L468.0 393.8 L468.2 393.5 L468.1 393.1 L468.3 391.8 L468.3 390.7 L468.6 389.7" stroke-width="3.76"/>
<path d="M468.6 389.7 L468.9 387.9 L469.3 386.9 L469.3 386.3 L469.6 385.9 L469.6 386.1 L470.0 385.9 L470.4 386.0 L470.8 385.8 L470.9 384.7 L471.2 382.8 L471.6 382.6 L471.5 383.0 L471.9 383.9 L471.8 383.6" stroke-width="3.79"/>
<path d="M471.8 383.6 L472.3 384.8 L472.8 385.4 L473.3 386.2 L473.4 387.0 L473.5 387.4 L473.5 388.0 L473.5 389.3 L473.8 391.7 L474.3 391.2 L474.7 391.4 L475.2 391.1 L475.6 390.7 L476.0 390.4 L476.4 388.7" stroke-width="3.77"/>
<path d="M476.4 388.7 L476.9 387.3 L477.1 388.2 L477.7 388.7 L478.1 389.6 L478.1 391.0 L478.2 392.5 L478.1 393.8 L478.8 393.7 L479.1 392.8 L479.6 392.7 L479.7 393.5 L480.3 394.3 L480.7 395.2 L481.1 394.8" stroke-width="3.76"/>
<path d="M481.1 394.8 L481.5 394.8 L482.3 394.4 L482.6 394.5 L483.1 392.9 L483.3 392.4 L483.8 392.1 L484.6 390.5 L485.4 389.3 L485.6 388.7 L486.0 387.6 L486.2 387.2 L486.9 387.0 L487.5 387.7 L487.8 387.4" stroke-width="3.76"/>
<path d="M487.8 387.4 L487.8 386.5 L487.9 385.8 L487.6 385.5 L488.2 382.9 L488.3 382.2 L488.6 381.1 L488.9 380.8 L489.2 380.4 L488.9 380.3 L489.7 379.1 L490.0 378.2 L490.6 377.6 L490.4 377.0 L490.4 377.0" stroke-width="3.81"/>
<path d="M490.4 377.0 L490.6 376.6 L490.7 375.8 L490.4 374.5 L490.4 373.2 L490.9 372.8 L491.5 371.9 L491.9 371.5 L491.9 370.7 L492.3 369.9 L492.8 368.4 L493.0 368.2 L493.1 369.2 L493.2 369.2 L493.3 368.7" stroke-width="3.87"/>
<path d="M493.3 368.7 L493.7 367.7 L494.1 367.4 L494.5 365.9 L494.7 364.0 L494.7 362.4 L494.9 362.2 L495.4 362.8 L495.5 362.4 L495.4 360.3 L495.8 358.7 L495.8 357.2 L496.3 357.4 L496.6 357.1 L497.4 356.8" stroke-width="3.93"/>
<path d="M497.4 356.8 L497.8 356.4 L498.4 356.6 L498.9 358.8 L499.5 358.5 L500.0 359.8 L500.5 360.2 L500.6 360.3 L500.9 360.1 L500.9 358.5 L500.8 358.5 L501.0 357.5 L501.1 357.0 L501.2 355.9 L501.5 355.6" stroke-width="3.95"/>
<path d="M501.5 355.6 L501.7 355.4 L502.0 353.4 L502.3 351.3 L502.9 350.4 L502.7 349.4 L502.6 350.5 L503.0 350.3 L502.9 348.8 L503.0 347.6 L503.0 346.9 L503.2 346.8 L503.2 346.2 L503.5 346.0 L503.6 345.1" stroke-width="4.00"/>
<path d="M503.6 345.1 L503.8 343.1 L503.6 340.7 L503.9 339.9 L504.3 338.9 L504.3 338.2 L504.2 338.5 L504.3 338.5 L504.4 338.4 L504.3 338.2 L504.2 337.6 L504.1 337.0 L504.2 335.5 L504.7 334.1 L504.8 333.5" stroke-width="4.06"/>
<path d="M504.8 333.5 L505.1 332.9 L505.3 333.8 L505.7 333.2 L505.5 332.7 L505.4 330.3 L505.2 329.6 L505.3 328.5 L505.7 327.8 L505.7 327.0 L506.3 326.7 L506.4 326.3 L506.7 326.1 L506.4 323.9 L506.4 321.9" stroke-width="4.11"/>
<path d="M506.4 321.9 L506.1 320.3 L506.5 319.5 L506.5 319.1 L506.5 320.1 L507.2 319.4 L507.6 318.5 L508.0 318.3 L508.2 318.6 L507.9 317.8 L507.9 317.3 L507.9 316.8 L508.2 314.8 L508.1 313.9 L508.1 313.3" stroke-width="4.18"/>
<path d="M508.1 313.3 L507.6 312.9 L507.4 311.9 L508.4 311.9 L509.1 309.5 L510.0 308.4 L509.7 308.2 L509.5 308.0 L509.2 307.4 L509.6 308.3 L510.2 308.4 L510.9 308.5 L511.4 306.0 L511.9 304.1 L512.3 301.7" stroke-width="4.23"/>
<path d="M512.3 301.7 L512.9 303.8 L513.5 306.1 L513.9 306.4 L513.7 303.9 L513.8 301.5 L514.0 298.9 L514.2 298.3 L514.7 298.1 L514.9 297.1 L514.8 296.6 L514.8 296.1 L515.1 295.4 L515.0 294.4 L514.9 294.1" stroke-width="4.28"/>
<path d="M514.9 294.1 L514.9 293.4 L515.0 292.0 L515.2 290.9 L515.8 289.7 L515.8 288.7 L515.7 288.1 L515.6 286.9 L515.8 286.7 L516.0 286.6 L515.7 286.4 L516.1 285.4 L516.2 285.4 L516.0 284.4 L516.2 283.8" stroke-width="4.35"/>
<path d="M516.2 283.8 L516.3 282.5 L516.6 281.6 L516.6 281.3 L516.6 281.2 L516.6 280.9 L516.4 279.6 L516.9 278.3 L517.0 276.9 L516.8 276.5 L517.1 275.5 L517.3 274.8 L517.3 274.4 L517.2 273.9 L517.1 273.1" stroke-width="4.40"/>
<path d="M517.1 273.1 L517.1 271.5 L517.2 271.4 L517.4 270.0 L517.2 270.0 L517.5 269.6 L517.5 269.0 L517.3 267.3 L517.5 266.3 L518.0 264.8 L518.0 264.0 L517.8 263.8 L517.7 262.8 L518.0 261.4 L518.0 260.1" stroke-width="4.47"/>
<path d="M518.0 260.1 L517.9 259.0 L518.2 259.0 L518.1 259.3 L518.0 259.9 L518.4 258.5 L518.2 257.6 L518.3 256.3 L518.5 255.4 L518.7 255.5 L518.8 254.6 L519.0 254.5 L518.8 254.0 L518.6 253.6 L518.9 252.2" stroke-width="3.50"/>
<path d="M518.9 252.2 L518.9 250.8 L519.1 249.8 L519.1 248.7 L519.3 247.8 L519.2 247.1 L519.3 246.3 L519.4 245.3 L519.5 244.6 L519.3 243.5 L519.3 243.1 L519.2 242.3 L519.7 241.4 L519.5 240.6 L519.6 240.1" stroke-width="3.50"/>
<path d="M519.6 240.1 L519.9 239.8 L520.0 239.0 L520.0 238.6 L519.9 237.5 L519.8 237.1 L520.0 236.2 L519.9 235.4 L520.1 234.4 L520.3 233.7 L520.2 232.7 L520.2 232.3 L520.4 231.3 L520.4 230.9 L520.6 231.0" stroke-width="3.50"/>
<path d="M520.6 231.0 L520.8 229.6 L520.6 229.0 L521.1 228.0 L521.2 227.5 L521.0 226.0 L521.0 225.2 L520.8 224.5 L521.0 224.3 L521.1 223.7 L520.9 222.6 L521.2 222.1 L521.1 220.9 L521.1 220.2 L521.4 219.1" stroke-width="3.50"/>
<path d="M521.4 219.1 L521.7 217.9 L521.6 216.8 L521.9 216.8 L521.6 216.6 L521.7 216.9 L521.9 215.4 L522.1 214.1 L522.3 213.7 L522.4 212.2 L522.7 211.1 L522.7 210.0 L522.7 209.6 L523.1 209.8 L523.1 209.5" stroke-width="3.50"/>
<path d="M523.1 209.5 L523.1 208.2 L523.1 207.5 L522.8 206.6 L522.8 205.2 L522.9 204.0 L523.3 202.5 L523.2 202.5 L523.3 202.9 L523.1 203.1 L523.3 202.0 L523.4 200.8 L523.3 199.8 L523.7 199.5 L523.6 198.7" stroke-width="3.50"/>
<path d="M523.6 198.7 L523.9 198.5 L524.0 196.7 L523.8 195.7 L524.1 195.0 L523.9 194.0 L523.5 193.4 L523.5 192.1 L523.5 192.1 L524.0 190.1 L524.2 188.8 L524.2 188.5 L524.3 188.5 L524.4 189.3 L524.1 188.0" stroke-width="3.50"/>
<path d="M524.1 188.0 L524.3 186.8 L524.2 186.3 L524.3 185.3 L524.2 184.1 L524.0 183.4 L524.1 182.3 L524.4 182.3 L524.3 181.1 L524.4 180.7 L524.6 179.8 L524.8 178.9 L524.6 178.5 L524.5 177.4 L524.9 177.6" stroke-width="3.50"/>
<path d="M524.9 177.6 L524.8 176.4 L524.7 175.3 L524.6 174.5 L524.5 173.5 L524.6 172.5 L524.6 172.0 L525.0 170.3 L524.9 169.0 L525.2 168.1 L525.1 167.5 L524.9 167.1 L524.7 168.0 L525.1 166.8 L525.1 166.5" stroke-width="3.50"/>
<path d="M525.1 166.5 L525.4 165.8 L525.5 165.7 L525.2 165.3 L525.2 164.1 L525.3 163.3 L525.3 161.9 L525.5 160.1 L525.5 160.0 L525.1 159.2 L525.3 158.0 L525.4 158.0 L525.3 158.2 L525.3 157.4 L525.4 156.1" stroke-width="3.50"/>
<path d="M525.4 156.1 L525.7 154.3 L526.0 153.5 L525.7 153.5 L525.5 152.7 L525.5 151.7 L525.8 151.6 L526.1 151.7 L526.2 151.3 L526.0 150.3 L525.8 149.0 L525.8 146.3 L525.6 147.6 L525.5 146.6 L525.9 146.0" stroke-width="3.50"/>
<path d="M525.9 146.0 L525.7 144.4 L525.8 143.5 L526.1 142.1 L526.2 141.1 L526.4 141.4 L526.5 140.6 L526.5 139.4 L526.3 138.4 L526.4 137.7 L526.4 137.3 L526.3 136.8 L526.4 135.9 L526.2 135.0 L526.4 135.3" stroke-width="3.50"/>
<path d="M526.4 135.3 L526.3 134.3 L526.5 134.2 L526.5 133.6 L526.6 133.8 L526.3 132.1 L526.5 129.8 L526.4 128.0 L526.4 127.2 L526.0 126.9 L526.1 125.9 L526.3 125.8 L526.8 125.5 L526.8 125.3 L526.8 124.2" stroke-width="3.50"/>
<path d="M526.8 124.2 L526.9 122.0 L526.9 122.0 L526.7 121.0 L526.9 120.3 L526.8 120.5 L526.7 120.2 L526.9 118.8 L526.9 118.6 L527.0 117.1 L527.1 116.4 L526.9 115.1 L527.0 114.9 L527.2 113.7 L527.2 114.2" stroke-width="3.50"/>
<path d="M527.2 114.2 L527.1 111.2 L527.0 110.8 L527.1 108.8 L527.1 109.1 L527.5 109.3 L527.6 109.7 L527.4 107.2 L527.0 105.6 L527.0 105.8 L527.2 107.3 L527.2 108.1 L527.3 109.2 L527.6 110.7 L527.3 111.0" stroke-width="3.50"/>
<path d="M527.3 111.0 L527.5 110.9 L527.6 112.2 L527.5 113.6 L527.3 114.0 L527.6 115.1 L527.7 117.0 L528.2 118.1 L527.9 118.0 L527.6 118.4 L527.6 119.0 L527.7 119.7 L527.6 119.8 L527.6 120.6 L527.8 121.7" stroke-width="3.50"/>
<path d="M527.8 121.7 L527.6 123.6 L527.5 124.2 L527.7 125.7 L528.1 126.2 L527.9 127.5 L527.9 127.7 L527.9 127.3 L527.7 128.7 L527.9 129.0 L527.6 129.8 L527.6 131.7 L528.0 131.6 L528.1 133.4 L528.3 134.4" stroke-width="3.50"/>
<path d="M528.3 134.4 L528.1 135.4 L528.1 134.9 L528.2 135.1 L527.9 135.6 L528.1 135.2 L528.1 135.9 L528.2 138.5 L528.5 139.5 L528.4 141.8 L528.2 142.6 L528.4 143.5 L528.0 144.1 L528.3 143.2 L528.4 143.4" stroke-width="3.50"/>
<path d="M528.4 143.4 L528.2 141.4 L528.3 143.8 L528.2 145.0 L528.5 146.3 L528.3 147.6 L528.3 148.3 L528.4 149.2 L528.6 150.4 L528.3 151.2 L528.5 152.0 L528.4 151.8 L528.5 153.2 L529.0 153.6 L529.0 154.3" stroke-width="3.50"/>
<path d="M529.0 154.3 L528.8 155.4 L528.9 155.5 L529.0 155.9 L528.7 156.0 L528.5 156.4 L528.8 158.1 L529.0 158.6 L529.2 160.7 L528.9 161.3 L528.7 161.8 L528.3 162.9 L528.5 163.2 L528.7 163.7 L529.2 162.8" stroke-width="3.50"/>
<path d="M529.2 162.8 L528.9 164.2 L529.0 164.6 L528.8 165.8 L529.0 166.4 L528.9 167.9 L528.8 169.1 L528.9 168.7 L529.0 169.3 L528.9 169.9 L528.9 171.4 L529.1 172.1 L529.0 173.5 L529.1 174.0 L529.1 174.3" stroke-width="3.50"/>
<path d="M529.1 174.3 L528.8 176.0 L529.0 176.9 L529.0 178.0 L529.3 178.1 L529.5 179.1 L529.4 179.4 L529.4 179.7 L529.5 180.6 L529.6 181.5 L529.6 182.3 L529.5 183.2 L529.3 183.7 L529.5 184.4 L529.3 185.6" stroke-width="3.50"/>
<path d="M529.3 185.6 L529.3 185.8 L529.6 187.2 L529.5 187.7 L529.4 188.4 L529.5 189.0 L529.5 190.2 L529.3 190.9 L529.6 192.4 L529.8 192.8 L529.7 194.0 L530.2 195.0 L530.0 195.9 L530.2 196.7 L530.2 197.5" stroke-width="3.50"/>
<path d="M530.2 197.5 L529.8 198.1 L530.1 199.5 L529.8 200.4 L530.0 200.3 L529.8 200.0 L529.9 200.5 L529.8 201.3 L529.7 202.1 L529.6 202.8 L529.8 203.5 L530.2 203.0 L530.2 203.9 L530.3 205.6 L530.1 207.4" stroke-width="3.50"/>
<path d="M530.1 207.4 L530.0 209.0 L529.8 209.2 L530.1 209.2 L529.8 209.8 L530.0 210.4 L530.1 211.9 L530.4 212.3 L530.1 213.3 L529.9 214.3 L529.7 215.0 L529.9 215.7 L530.1 215.7 L530.4 215.4 L530.2 217.5" stroke-width="3.50"/>
<path d="M530.2 217.5 L530.1 218.7 L530.1 219.6 L530.0 220.4 L529.8 220.8 L530.1 221.4 L530.2 221.4 L530.3 222.5 L530.1 222.1 L530.4 223.6 L530.1 224.8 L530.1 226.2 L530.4 227.3 L530.3 228.0 L530.5 228.9" stroke-width="3.50"/>
<path d="M530.5 228.9 L530.4 229.4 L530.0 229.8 L530.1 229.6 L530.2 230.7 L530.5 232.2 L530.6 233.7 L530.7 234.2 L530.7 235.3 L530.5 235.8 L530.3 236.3 L530.3 237.2 L530.3 237.7 L530.5 238.1 L530.2 239.1" stroke-width="3.50"/>
<path d="M530.2 239.1 L530.4 240.3 L530.4 241.3 L530.1 242.1 L530.2 243.0 L530.0 243.8 L530.2 244.1 L530.2 244.5 L530.4 245.0 L530.0 246.3 L530.1 247.3 L530.4 247.8 L530.3 248.2 L530.4 248.5 L530.5 250.1" stroke-width="3.50"/>
<path d="M530.5 250.1 L530.4 250.6 L530.4 251.4 L530.6 252.2 L530.8 252.7 L530.7 253.0 L530.8 253.4 L530.8 254.7 L530.6 255.4 L530.7 257.1 L530.5 258.2 L530.6 259.2 L530.7 259.7 L530.4 260.1 L530.5 261.2" stroke-width="3.50"/>
<path d="M530.5 261.2 L530.6 261.0 L530.6 262.1 L530.3 262.3 L530.6 263.1 L530.4 263.2 L530.6 264.3 L530.6 265.0 L530.8 265.9 L530.6 266.9 L530.6 267.8 L530.3 268.0 L530.1 269.3 L530.3 270.6 L530.8 271.3" stroke-width="3.50"/>
<path d="M530.8 271.3 L530.8 272.4 L530.8 273.2 L530.7 273.4 L530.3 274.2 L530.5 274.7 L530.3 275.6 L530.7 277.0 L530.7 277.1 L530.9 278.0 L530.9 278.7 L530.9 279.5 L530.6 280.3 L530.8 281.6 L531.0 281.6" stroke-width="3.50"/>
<path d="M531.0 281.6 L531.0 282.4 L531.0 282.7 L531.0 283.3 L531.1 284.4 L530.8 285.0 L530.8 286.2 L531.1 287.3 L531.2 288.2 L531.3 288.9 L531.2 289.7 L531.1 290.0 L531.0 290.6 L530.9 291.3 L530.8 290.1" stroke-width="4.35"/>
<path d="M530.8 290.1 L531.1 290.3 L531.0 289.0 L531.1 287.6 L531.1 287.4 L531.1 286.6 L531.5 285.7 L531.4 285.4 L531.0 284.6 L531.2 284.4 L531.3 283.3 L531.0 282.6 L531.5 281.9 L531.1 281.0 L531.2 279.6" stroke-width="4.36"/>
<path d="M531.2 279.6 L531.4 279.0 L531.2 278.3 L531.5 277.8 L531.6 277.6 L531.6 276.8 L531.4 275.8 L531.3 274.9 L531.6 274.0 L531.6 273.0 L531.4 272.0 L531.9 271.7 L532.0 271.2 L532.1 270.5 L531.8 269.9" stroke-width="3.50"/>
<path d="M531.8 269.9 L532.0 269.0 L532.1 267.6 L532.0 266.9 L532.1 266.2 L531.7 265.9 L532.0 264.9 L531.9 264.5 L532.1 264.2 L532.0 263.1 L532.2 262.2 L532.1 261.8 L531.9 261.4 L532.2 260.1 L532.2 258.8" stroke-width="3.50"/>
<path d="M532.2 258.8 L532.0 257.8 L531.8 257.5 L531.8 256.7 L532.0 255.9 L532.3 254.6 L532.6 253.8 L532.4 254.0 L532.2 253.8 L532.1 253.3 L532.4 252.2 L532.6 251.1 L532.5 249.4 L532.3 249.6 L532.3 248.7" stroke-width="3.50"/>
<path d="M532.3 248.7 L532.4 248.1 L532.6 247.3 L532.8 245.9 L532.9 245.3 L532.6 245.0 L532.6 243.9 L532.3 244.0 L532.6 243.7 L532.8 243.0 L532.7 242.1 L532.8 240.9 L533.0 239.0 L532.9 236.8 L532.7 236.5" stroke-width="3.50"/>
<path d="M532.7 236.5 L532.9 236.2 L532.7 236.1 L532.8 235.4 L533.1 234.5 L533.4 234.3 L532.9 233.3 L533.1 232.1 L532.9 231.5 L532.9 231.4 L532.7 230.0 L532.8 228.8 L532.9 229.3 L533.1 229.1 L533.4 228.7" stroke-width="3.50"/>
<path d="M533.4 228.7 L533.2 228.0 L533.3 226.1 L533.3 224.5 L533.2 223.3 L533.2 222.7 L533.1 221.2 L533.3 221.6 L532.9 220.8 L532.6 221.2 L532.8 219.5 L533.4 218.6 L533.2 216.6 L533.3 216.7 L533.3 216.7" stroke-width="4.60"/>
<path d="M533.3 216.7 L533.4 217.2 L533.5 215.6 L533.5 214.8 L533.3 213.2 L533.6 212.3 L533.7 211.6 L533.5 213.1 L533.5 214.2 L533.2 215.0 L533.3 216.4 L533.4 216.4 L533.6 217.0 L533.7 217.7 L534.0 218.1" stroke-width="4.60"/>
<path d="M534.0 218.1 L533.9 218.3 L534.2 218.5 L534.4 219.7 L534.1 220.1 L534.1 220.6 L534.2 221.9 L534.2 223.7 L533.7 225.2 L533.8 225.8 L533.8 226.6 L534.0 227.3 L534.0 228.1 L534.1 227.6 L534.3 228.4" stroke-width="4.60"/>
<path d="M534.3 228.4 L534.4 229.6 L534.5 230.6 L534.5 231.8 L534.4 232.3 L534.2 232.8 L534.3 233.6 L534.1 233.9 L534.2 235.1 L534.0 235.0 L534.4 235.7 L534.2 236.5 L534.4 236.2 L534.4 238.2 L534.6 238.4" stroke-width="4.60"/>
<path d="M534.6 238.4 L534.5 240.2 L534.6 241.0 L534.8 241.6 L534.9 243.3 L535.0 243.5 L534.8 244.9 L534.8 244.7 L534.8 246.1 L534.6 246.6 L534.9 247.6 L534.6 247.3 L535.0 247.0 L535.0 247.6 L535.0 248.5" stroke-width="4.60"/>
<path d="M535.0 248.5 L534.9 250.0 L534.8 251.0 L534.9 252.2 L535.1 252.7 L535.3 253.9 L535.0 254.9 L535.0 256.7 L535.0 257.1 L535.0 257.9 L535.0 257.2 L535.1 257.5 L535.3 258.6 L535.0 259.2 L535.5 260.3" stroke-width="4.53"/>
<path d="M535.5 260.3 L535.3 260.7 L535.0 261.7 L534.8 262.2 L535.1 263.8 L534.9 264.1 L535.0 265.1 L535.0 265.9 L535.0 265.7 L535.1 267.0 L535.2 268.0 L535.2 268.9 L535.5 269.9 L535.4 270.3 L535.6 270.7" stroke-width="4.48"/>
<path d="M535.6 270.7 L535.5 270.9 L535.4 271.6 L535.3 272.5 L535.5 274.3 L535.7 274.5 L535.8 275.4 L535.7 275.7 L535.5 276.7 L535.4 277.2 L535.2 278.4 L535.6 279.3 L535.7 280.3 L535.8 280.5 L535.9 280.7" stroke-width="4.42"/>
<path d="M535.9 280.7 L536.0 281.2 L535.8 281.8 L535.8 283.5 L535.9 284.8 L535.9 285.7 L535.9 286.5 L536.1 287.1 L536.1 287.8 L536.2 288.5 L536.5 288.8 L536.6 289.2 L536.5 290.3 L536.2 291.3 L536.1 291.9" stroke-width="4.36"/>
<path d="M536.1 291.9 L536.2 292.9 L536.1 294.6 L536.1 294.9 L536.2 295.6 L536.1 295.3 L536.4 295.8 L536.5 295.6 L536.4 297.8 L536.6 299.2 L536.7 299.9 L537.0 301.0 L537.0 302.3 L536.9 302.7 L536.8 303.3" stroke-width="4.29"/>
<path d="M536.8 303.3 L536.4 304.0 L537.0 305.0 L537.1 304.8 L537.5 305.5 L537.5 304.7 L537.0 304.0 L536.6 303.5 L537.3 307.0 L537.7 309.7 L537.9 312.4 L537.9 311.9 L537.8 312.4 L538.1 311.0 L538.2 310.3" stroke-width="4.24"/>
<path d="M538.2 310.3 L538.5 309.9 L538.4 308.3 L538.8 308.0 L539.2 306.2 L539.8 306.3 L539.6 305.2 L539.1 305.5 L539.0 304.2 L539.2 303.3 L539.2 302.2 L539.4 301.2 L539.8 300.5 L539.9 298.1 L540.2 297.2" stroke-width="4.25"/>
<path d="M540.2 297.2 L540.7 297.0 L540.6 296.7 L541.0 296.0 L540.3 294.9 L540.3 294.9 L539.9 293.0 L540.3 292.9 L540.6 292.2 L540.8 291.8 L540.8 291.0 L540.6 288.9 L540.7 288.6 L540.8 288.8 L541.2 289.6" stroke-width="4.32"/>
<path d="M541.2 289.6 L541.7 289.9 L541.9 286.3 L541.9 286.0 L542.2 282.6 L542.1 283.7 L541.7 284.2 L541.6 284.2 L541.5 282.5 L541.8 281.0 L541.9 279.0 L541.9 279.6 L542.1 279.6 L542.3 279.1 L541.5 280.3" stroke-width="4.38"/>
<path d="M541.5 280.3 L541.1 280.0 L540.4 279.9 L541.2 278.4 L542.1 276.2 L542.7 274.9 L542.8 273.3 L542.8 272.1 L542.9 271.1 L543.0 271.0 L543.1 270.8 L542.9 270.9 L542.8 270.7 L542.9 269.4 L543.0 268.2" stroke-width="4.43"/>
<path d="M543.0 268.2 L542.7 265.4 L543.0 263.6 L543.0 260.6 L543.2 261.2 L543.2 262.1 L543.3 261.9 L543.7 261.9 L544.1 262.0 L544.7 261.2 L544.2 260.0 L544.1 258.4 L544.0 257.4 L544.6 258.6 L544.9 257.0" stroke-width="4.50"/>
<path d="M544.9 257.0 L545.0 256.8 L544.3 256.6 L543.8 255.5 L542.9 254.6 L543.6 255.9 L544.0 255.0 L544.6 253.6 L544.8 253.1 L545.1 252.4 L545.0 251.9 L545.2 251.1 L545.2 250.6 L545.5 249.5 L544.9 247.3" stroke-width="4.55"/>
<path d="M544.9 247.3 L544.7 245.4 L544.6 243.6 L544.7 243.3 L545.2 244.2 L545.6 243.0 L546.2 242.3 L546.9 240.1 L547.5 241.0 L546.9 240.3 L546.6 239.0 L546.5 238.5 L546.6 237.1 L547.0 237.2 L547.2 235.6" stroke-width="4.60"/>
<path d="M547.2 235.6 L547.4 235.0 L547.7 233.0 L547.8 229.5 L548.2 230.6 L548.3 230.8 L548.8 230.8 L549.5 230.2 L549.8 230.6 L550.4 228.9 L550.4 230.9 L550.2 229.5 L550.3 229.7 L549.9 231.0 L549.4 233.0" stroke-width="4.60"/>
<path d="M549.4 233.0 L548.7 235.1 L549.7 237.1 L550.6 235.7 L551.4 238.1 L551.0 237.6 L550.4 238.3 L550.1 238.4 L550.0 241.0 L550.0 244.0 L550.2 246.1 L550.6 243.4 L551.3 240.5 L551.8 237.2 L551.4 240.2" stroke-width="4.60"/>
<path d="M551.4 240.2 L551.1 243.4 L550.9 245.7 L550.6 245.5 L550.5 244.4 L549.9 244.4 L550.3 246.3 L550.3 250.0 L550.6 253.7 L550.6 255.6 L550.5 256.9 L550.8 259.2 L550.6 255.9 L550.4 252.2 L550.7 249.1" stroke-width="4.57"/>
<path d="M550.7 249.1 L550.8 252.7 L551.0 256.0 L550.9 256.3 L551.2 259.3 L551.8 260.5 L552.1 261.1 L551.8 261.2 L551.6 260.6 L551.6 261.1 L551.5 262.2 L551.1 264.8 L550.9 265.8 L551.5 264.8 L552.7 262.6" stroke-width="4.51"/>
<path d="M552.7 262.6 L553.2 262.2 L552.6 264.5 L552.0 267.3 L551.1 271.4 L551.5 271.6 L551.5 271.6 L552.0 271.6 L552.0 272.4 L552.1 272.5 L552.1 273.6 L552.1 274.7 L552.5 274.6 L552.5 274.4 L552.4 277.2" stroke-width="4.45"/>
<path d="M552.4 277.2 L552.1 277.7 L552.1 278.9 L552.1 279.7 L552.3 279.7 L552.4 279.2 L552.7 280.9 L553.2 282.3 L553.7 282.9 L553.3 283.1 L552.8 283.6 L552.4 283.8 L552.3 284.0 L552.3 283.8 L552.3 282.1" stroke-width="4.39"/>
<path d="M552.3 282.1 L552.6 285.4 L552.7 288.4 L553.3 289.2 L552.9 290.4 L552.8 291.0 L552.8 292.4 L552.8 293.2 L552.9 294.1 L553.0 295.4 L553.3 295.2 L553.5 294.5 L553.7 294.7 L553.5 296.0 L553.6 297.4" stroke-width="4.33"/>
<path d="M553.6 297.4 L553.6 298.2 L553.6 299.2 L553.5 301.2 L553.7 301.9 L553.8 303.4 L554.2 302.6 L554.3 303.7 L554.2 304.6 L554.1 306.8 L553.9 307.8 L553.8 308.6 L553.8 310.0 L553.8 311.4 L554.4 310.3" stroke-width="4.25"/>
<path d="M554.4 310.3 L554.6 309.6 L555.3 308.5 L555.2 308.3 L555.2 308.1 L554.9 309.1 L555.5 311.5 L555.8 313.8 L556.1 316.2 L556.0 317.0 L555.6 317.7 L555.5 319.4 L555.9 319.8 L556.4 319.7 L556.5 321.4" stroke-width="4.20"/>
<path d="M556.5 321.4 L556.7 322.0 L556.6 320.7 L556.8 320.2 L556.2 318.1 L555.7 315.8 L555.5 315.2 L555.7 314.0 L555.9 313.4 L556.3 312.7 L556.5 312.0 L556.5 313.3 L556.6 313.4 L557.1 311.5 L557.5 310.4" stroke-width="4.19"/>
<path d="M557.5 310.4 L558.2 308.0 L557.6 306.3 L557.1 305.4 L556.7 304.0 L557.0 304.0 L557.7 303.4 L558.2 302.9 L558.6 304.1 L558.4 306.3 L558.5 307.0 L558.6 306.1 L558.7 304.4 L558.5 304.5 L558.8 302.1" stroke-width="4.25"/>
<path d="M558.8 302.1 L558.7 299.4 L558.7 296.2 L558.9 296.3 L558.8 295.1 L559.0 294.1 L559.0 294.2 L559.4 294.6 L559.8 293.7 L560.0 292.8 L560.1 291.5 L560.3 289.7 L560.7 290.6 L560.7 290.7 L561.2 291.3" stroke-width="4.31"/>
<path d="M561.2 291.3 L561.2 289.8 L561.5 288.8 L561.9 286.3 L562.1 285.6 L562.1 283.2 L562.3 281.8 L562.4 282.8 L562.6 283.6 L562.7 284.5 L563.0 283.6 L563.1 284.9 L563.1 283.5 L563.7 283.8 L563.8 286.3" stroke-width="4.36"/>
<path d="M563.8 286.3 L564.1 286.7 L564.0 288.6 L563.6 288.5 L563.1 288.1 L563.5 289.6 L563.7 290.0 L564.0 291.2 L564.1 292.1 L564.3 292.7 L564.8 294.4 L564.7 293.8 L565.2 294.3 L564.9 294.4 L565.3 294.2" stroke-width="4.33"/>
<path d="M565.3 294.2 L565.4 294.9 L565.8 294.1 L565.2 294.5 L565.0 295.5 L564.7 296.4 L565.2 298.4 L566.0 299.2 L566.2 300.8 L566.6 300.9 L566.7 303.1 L566.8 303.4 L567.1 305.4 L567.4 304.5 L567.8 304.4" stroke-width="4.28"/>
<path d="M567.8 304.4 L567.5 304.0 L566.9 303.2 L566.7 302.5 L567.1 302.5 L567.4 302.1 L567.9 301.2 L567.9 300.3 L568.4 298.8 L568.4 297.8 L568.8 297.5 L568.6 295.3 L569.0 294.0 L569.2 293.0 L569.3 291.8" stroke-width="4.28"/>
<path d="M569.3 291.8 L569.6 292.6 L569.8 290.2 L569.7 288.3 L569.7 287.0 L569.6 287.2 L569.2 288.0 L569.1 289.0 L569.3 288.2 L569.7 287.3 L570.5 287.5 L570.5 286.8 L570.6 287.0 L570.7 285.1 L570.5 283.9" stroke-width="4.35"/>
<path d="M570.5 283.9 L571.0 283.0 L571.0 281.5 L571.7 280.5 L572.2 280.6 L573.3 279.2 L573.1 279.5 L572.7 278.5 L572.6 279.8 L572.7 278.6 L573.1 276.8 L573.0 276.4 L573.4 277.9 L573.9 280.2 L574.1 280.6" stroke-width="4.39"/>
<path d="M574.1 280.6 L574.2 281.8 L574.6 282.4 L574.4 281.6 L575.2 283.6 L575.8 283.7 L576.4 285.4 L576.3 285.3 L576.5 287.0 L576.8 288.8 L577.1 288.0 L577.6 286.3 L577.8 283.9 L577.7 283.2 L577.7 283.0" stroke-width="4.37"/>
<path d="M577.7 283.0 L577.9 281.7 L577.9 281.0 L577.6 280.5 L577.6 278.3 L578.2 278.1 L578.6 276.7 L579.2 277.2 L578.9 277.0 L578.6 278.3 L578.4 279.3 L578.9 279.3 L579.0 277.8 L579.0 277.7 L579.2 276.3" stroke-width="4.40"/>
<path d="M579.2 276.3 L579.7 274.3 L579.9 270.5 L580.2 272.8 L580.7 273.7 L581.0 275.5 L581.7 275.9 L582.2 275.9 L582.8 278.4 L582.7 278.3 L582.8 280.6 L582.8 279.2 L583.4 279.8 L583.5 279.3 L584.2 278.5" stroke-width="4.41"/>
<path d="M584.2 278.5 L584.2 275.6 L584.3 272.8 L584.8 270.5 L584.6 270.4 L584.8 270.4 L584.6 270.2 L584.9 270.0 L585.5 270.1 L585.7 270.1 L585.9 270.1 L586.5 271.0 L587.0 270.4 L587.1 268.6 L587.8 267.8" stroke-width="4.44"/>
<path d="M587.8 267.8 L588.1 265.3 L588.3 264.2 L588.4 263.4 L588.8 260.8 L588.9 260.0 L589.2 261.5 L589.7 259.9 L589.6 259.6 L589.8 258.2 L589.9 257.0 L590.2 257.9 L590.1 259.2 L590.2 259.2 L590.3 261.6" stroke-width="4.50"/>
<path d="M590.3 261.6 L590.6 264.7 L591.0 267.0 L591.1 265.5 L590.7 264.6 L590.6 264.6 L590.9 266.0 L591.0 266.0 L590.7 267.9 L591.3 270.3 L591.6 272.1 L591.8 274.7 L591.7 274.5 L591.9 274.6 L591.8 275.3" stroke-width="4.46"/>
<path d="M591.8 275.3 L592.0 275.8 L592.2 274.8 L593.0 274.0 L593.3 272.2 L593.7 271.8 L594.2 270.4 L594.5 270.8 L595.1 270.5 L595.5 270.2 L595.7 271.3 L596.2 273.5 L596.2 275.2 L596.1 274.6 L596.2 275.9" stroke-width="4.43"/>
<path d="M596.2 275.9 L595.9 275.8 L596.3 277.6 L596.1 277.6 L596.3 278.6 L596.1 279.7 L596.1 279.9 L595.8 279.3 L596.2 280.3 L596.9 282.1 L597.0 282.8 L597.2 280.9 L597.3 279.9 L597.3 278.9 L597.8 278.3" stroke-width="4.40"/>
<path d="M597.8 278.3 L598.3 278.4 L598.5 277.4 L598.2 278.2 L597.8 277.2 L597.4 277.2 L597.9 274.9 L598.4 272.0 L599.3 268.6 L599.8 269.3 L599.9 269.0 L600.6 269.4 L600.3 270.0 L599.8 268.6 L599.5 268.1" stroke-width="4.43"/>
<path d="M599.5 268.1 L600.2 267.1 L600.8 265.9 L601.9 263.5 L602.3 264.1 L603.0 263.9 L603.4 263.5 L604.2 263.4 L604.7 264.4 L604.7 266.5 L604.5 266.4 L604.7 268.8 L604.4 270.9 L604.9 270.4 L605.2 269.1" stroke-width="4.47"/>
<path d="M605.2 269.1 L605.7 269.1 L606.0 269.8 L606.1 270.7 L606.4 271.6 L606.3 270.4 L606.1 269.8 L606.0 270.5 L606.7 273.0 L607.0 276.7 L607.5 279.8 L607.6 279.1 L607.4 278.1 L607.7 277.5 L607.7 278.3" stroke-width="4.43"/>
<path d="M607.7 278.3 L608.0 278.7 L608.5 279.7 L608.4 279.1 L608.7 279.5 L609.1 279.2 L609.3 280.6 L610.0 281.2 L610.4 284.0 L610.6 283.5 L610.7 283.8 L610.8 284.1 L611.2 285.7 L611.5 285.0 L612.0 285.2" stroke-width="4.38"/>
<path d="M612.0 285.2 L612.3 285.8 L612.2 284.6 L612.1 283.4 L612.5 283.5 L612.5 282.4 L612.3 280.6 L612.6 281.3 L613.0 280.4 L613.1 278.6 L613.6 277.7 L614.0 276.1 L614.4 274.0 L614.7 275.1 L614.3 276.1" stroke-width="4.39"/>
<path d="M614.3 276.1 L614.5 277.1 L614.6 275.4 L615.2 272.7 L615.4 269.8 L616.2 268.4 L616.8 268.3 L617.4 265.9 L617.6 266.3 L618.1 267.8 L618.4 268.2 L618.6 267.4 L618.4 266.5 L618.7 265.1 L619.8 264.6" stroke-width="4.45"/>
<path d="M619.8 264.6 L620.6 263.3 L621.4 262.8 L621.8 262.0 L621.8 262.8 L622.2 261.8 L622.5 261.6 L622.6 260.7 L622.8 261.1 L622.8 258.9 L623.0 257.2 L623.1 255.6 L624.0 255.4 L624.8 256.4 L625.7 255.7" stroke-width="4.51"/>
<path d="M625.7 255.7 L626.0 256.7 L626.0 256.9 L626.2 258.1 L626.6 257.1 L626.9 256.1 L627.3 254.1 L628.1 253.8 L628.4 251.6 L629.1 251.3 L629.7 250.6 L630.3 250.1 L631.0 250.0 L631.1 248.7 L631.1 250.0" stroke-width="4.55"/>
<path d="M631.1 250.0 L631.2 250.3 L631.1 251.6 L631.4 252.0 L631.4 253.0 L632.1 252.6 L633.0 255.4 L633.9 256.8 L633.8 257.0 L634.0 256.7 L633.7 256.5 L633.8 255.7 L633.9 255.0 L634.2 254.6 L634.3 256.5" stroke-width="4.54"/>
<path d="M634.3 256.5 L634.5 259.0 L634.9 260.9 L634.8 261.1 L634.8 261.4 L634.9 262.4 L634.5 263.1 L634.1 265.5 L634.0 265.3 L634.9 264.4 L635.8 262.5 L636.6 261.6 L636.6 260.5 L636.9 260.6 L637.1 260.1" stroke-width="4.50"/>
<path d="M637.1 260.1 L637.3 261.7 L637.5 262.1 L637.6 263.0 L637.0 260.1 L636.9 257.1 L636.7 253.3 L637.6 252.3 L638.5 252.1 L639.6 251.2 L639.6 250.1 L639.9 248.7 L640.2 247.8 L640.0 246.1 L640.1 245.1" stroke-width="4.54"/>
<path d="M640.1 245.1 L639.6 246.1 L639.6 246.9 L639.9 247.3 L640.1 249.4 L640.3 250.8 L640.4 253.4 L641.0 256.7 L640.5 255.9 L640.6 256.2 L640.6 257.0 L640.9 255.8 L641.0 255.8 L641.4 255.6 L641.1 256.5" stroke-width="4.55"/>
<path d="M641.1 256.5 L641.2 258.0 L640.9 258.7 L641.3 260.9 L641.2 264.1 L641.7 266.5 L641.4 266.1 L641.4 264.2 L641.5 264.9 L641.2 266.6 L640.8 268.3 L640.6 268.3 L640.9 270.0 L641.0 270.6 L641.1 272.0" stroke-width="4.48"/>
<path d="M641.1 272.0 L641.8 274.1 L642.6 275.1 L643.8 276.9 L643.2 278.7 L642.8 279.0 L642.2 279.9 L642.3 279.8 L642.6 280.3 L643.0 280.9 L643.1 280.6 L643.1 281.0 L642.9 281.5 L643.2 281.2 L643.2 282.8" stroke-width="4.40"/>
<path d="M643.2 282.8 L643.5 282.4 L643.3 285.0 L643.3 285.4 L643.2 285.5 L643.0 284.3 L643.0 283.6 L642.9 282.9 L643.1 280.0 L643.3 279.0 L643.3 277.1 L643.3 275.3 L643.0 275.4 L642.4 276.3 L643.1 275.0" stroke-width="4.39"/>
<path d="M643.1 275.0 L643.4 274.1 L644.1 273.1 L644.3 272.7 L644.5 271.2 L645.0 271.3 L644.4 268.7 L644.1 267.6 L643.4 266.8 L644.0 265.1 L644.6 264.1 L645.2 263.2 L645.3 263.4 L645.5 262.3 L646.0 262.1" stroke-width="4.46"/>
<path d="M646.0 262.1 L646.1 260.0 L646.1 260.4 L646.6 261.0 L646.0 263.1 L645.9 266.6 L645.7 269.5 L645.9 269.1 L645.9 269.2 L646.2 269.3 L646.1 268.2 L645.9 268.1 L645.8 268.7 L646.3 270.5 L646.7 273.7" stroke-width="4.47"/>
<path d="M646.7 273.7 L646.8 276.4 L647.3 276.6 L647.9 275.1 L648.6 274.5 L649.2 270.9 L650.0 268.9 L650.5 266.3 L650.3 268.4 L650.0 271.9 L649.5 274.7 L650.1 275.4 L650.5 274.6 L651.2 275.3 L651.1 276.1" stroke-width="4.43"/>
<path d="M651.1 276.1 L651.2 278.6 L651.1 280.5 L651.3 279.1 L651.1 277.0 L651.0 274.9 L651.9 277.5 L652.4 280.0 L653.1 282.5 L652.4 280.4 L651.5 279.5 L650.8 278.5 L651.3 277.4 L651.7 277.0 L652.3 275.7" stroke-width="4.40"/>
<path d="M652.3 275.7 L652.6 275.3 L652.7 274.3 L652.9 273.1 L653.2 272.3 L653.6 274.0 L654.4 274.1 L654.5 273.4 L654.9 272.4 L655.1 271.8 L655.2 272.3 L655.4 274.0 L656.1 274.3 L655.9 274.4 L655.4 276.0" stroke-width="4.43"/>
<path d="M655.4 276.0 L655.5 276.1 L655.6 278.3 L656.2 279.5 L656.7 280.6 L656.8 281.3 L657.1 280.7 L657.0 283.0 L657.0 284.0 L656.8 285.1 L656.7 287.0 L656.7 288.0 L656.9 288.6 L657.0 288.7 L657.0 289.5" stroke-width="4.38"/>
<path d="M657.0 289.5 L656.9 290.0 L656.9 291.0 L656.8 290.7 L656.8 291.8 L656.8 291.7 L656.8 293.3 L656.8 293.2 L656.3 293.8 L657.2 296.9 L657.7 298.2 L658.2 299.7 L657.9 299.6 L657.5 300.1 L657.1 301.4" stroke-width="4.31"/>
<path d="M657.1 301.4 L657.0 301.1 L656.7 302.3 L656.5 302.2 L657.0 303.3 L657.6 302.7 L657.9 303.9 L658.0 305.7 L658.1 307.7 L657.9 309.7 L657.9 309.1 L658.1 308.4 L658.2 307.2 L658.6 309.0 L658.8 310.6" stroke-width="4.25"/>
<path d="M658.8 310.6 L659.5 311.4 L659.2 311.4 L659.2 310.0 L658.9 309.7 L659.2 308.3 L659.5 306.4 L659.5 303.8 L659.5 304.1 L659.7 304.3 L659.9 304.6 L660.0 302.4 L660.5 300.1 L660.7 298.1 L660.7 298.8" stroke-width="4.25"/>
<path d="M660.7 298.8 L660.8 300.1 L661.0 300.4 L661.4 298.9 L661.5 300.2 L662.0 299.6 L662.5 298.4 L663.0 298.8 L663.9 297.4 L663.5 300.3 L663.0 302.4 L662.7 304.5 L662.4 305.2 L662.5 304.4 L662.6 303.9" stroke-width="4.27"/>
<path d="M662.6 303.9 L663.1 306.3 L663.6 308.2 L664.4 309.8 L664.1 310.2 L664.1 309.5 L663.9 308.1 L664.1 310.5 L664.2 311.6 L664.3 311.7 L664.6 313.0 L664.5 313.8 L664.9 315.2 L665.0 315.3 L665.1 316.1" stroke-width="4.22"/>
<path d="M665.1 316.1 L665.2 316.2 L665.5 315.6 L665.7 316.2 L666.0 315.0 L666.8 313.5 L667.1 312.7 L667.7 311.2 L667.9 311.3 L668.4 311.8 L668.5 311.9 L668.9 312.2 L669.0 312.4 L669.0 312.7 L669.0 313.6" stroke-width="4.20"/>
<path d="M669.0 313.6 L669.1 314.6 L668.9 315.7 L669.0 314.1 L669.1 313.9 L669.6 312.5 L669.5 315.8 L669.5 319.0 L669.7 321.7 L670.0 322.0 L670.6 322.1 L670.7 321.6 L671.2 321.3 L671.1 320.5 L671.2 320.0" stroke-width="4.18"/>
<path d="M671.2 320.0 L671.2 322.8 L671.2 324.8 L671.1 324.4 L671.7 324.4 L672.3 323.5 L673.0 323.9 L673.8 323.6 L674.3 322.6 L675.2 322.1 L675.0 320.7 L675.1 318.3 L675.6 318.0 L675.8 320.9 L675.4 322.4" stroke-width="4.15"/>
<path d="M675.4 322.4 L675.4 325.1 L675.7 324.4 L676.2 324.8 L676.7 323.9 L677.2 326.3 L677.5 328.4 L677.7 330.7 L678.0 330.1 L678.0 329.3 L678.5 328.5 L678.5 329.9 L679.3 330.6 L679.9 331.5 L680.7 331.8" stroke-width="4.12"/>
<path d="M680.7 331.8 L681.1 332.9 L681.9 332.3 L681.9 331.0 L682.1 329.4 L682.0 328.8 L682.1 329.6 L681.9 329.8 L681.9 329.7 L682.4 328.9 L682.8 329.0 L683.0 327.3 L683.2 327.1 L683.4 327.3 L683.1 326.4" stroke-width="4.11"/>
<path d="M683.1 326.4 L683.5 324.8 L683.5 324.3 L683.7 323.1 L683.8 320.8 L683.6 319.0 L683.9 318.4 L683.8 316.0 L683.8 314.5 L683.7 312.9 L683.9 313.5 L684.1 313.3 L684.0 312.9 L684.5 312.5 L684.5 311.5" stroke-width="4.18"/>
<path d="M684.5 311.5 L684.7 310.5 L685.0 309.9 L684.8 308.7 L684.7 308.3 L684.8 308.7 L684.4 308.8 L684.1 308.5 L685.2 307.8 L685.8 307.9 L686.7 306.4 L686.4 303.9 L686.0 302.9 L685.7 302.0 L685.9 302.0" stroke-width="4.24"/>
<path d="M685.9 302.0 L686.1 301.3 L686.0 300.0 L686.4 300.2 L686.6 297.9 L687.2 297.4 L686.5 296.8 L686.2 296.0 L685.8 297.0 L686.6 295.3 L687.1 295.2 L688.0 294.7 L687.6 295.6 L687.4 293.7 L687.0 293.3" stroke-width="4.30"/>
<path d="M687.0 293.3 L687.6 292.3 L688.0 289.6 L688.0 288.0 L688.2 286.0 L687.8 284.8 L688.0 283.5 L688.1 284.6 L688.6 286.1 L688.7 287.4 L688.6 286.5 L688.9 283.8 L689.1 282.3 L689.1 282.7 L689.2 282.3" stroke-width="4.36"/>
<path d="M689.2 282.3 L689.1 282.5 L688.9 279.7 L688.9 277.1 L688.5 274.1 L688.9 275.8 L689.0 274.5 L689.0 274.1 L689.5 274.8 L689.8 272.8 L690.5 273.6 L690.7 271.7 L691.0 269.5 L691.7 268.4 L691.1 267.8" stroke-width="4.42"/>
<path d="M691.1 267.8 L691.2 267.3 L690.7 267.9 L691.3 267.0 L691.7 267.9 L691.9 268.0 L691.9 269.6 L691.9 271.1 L691.9 271.5 L691.8 272.3 L692.1 273.5 L692.1 274.7 L692.5 273.6 L692.7 271.9 L692.7 271.7" stroke-width="4.45"/>
<path d="M692.7 271.7 L692.4 271.7 L691.8 271.5 L691.5 273.4 L691.8 274.6 L692.3 277.5 L692.6 278.7 L692.6 279.0 L692.8 281.2 L692.8 282.8 L692.7 282.3 L692.6 282.1 L692.7 282.3 L692.9 282.9 L692.8 282.2" stroke-width="4.40"/>
<path d="M692.8 282.2 L692.6 282.3 L692.6 283.7 L692.7 285.8 L693.1 287.9 L693.2 288.4 L693.3 289.5 L693.4 289.9 L693.4 290.9 L693.6 291.6 L693.9 292.6 L694.9 292.5 L695.9 292.4 L696.7 292.0 L696.5 293.8" stroke-width="4.34"/>
<path d="M696.5 293.8 L696.5 295.4 L696.6 296.1 L696.5 297.4 L696.7 298.5 L696.3 298.4 L696.8 299.9 L697.1 299.0 L697.5 298.5 L697.3 298.1 L697.5 299.0 L697.1 298.8 L697.1 300.6 L697.0 303.2 L696.7 302.9" stroke-width="4.29"/>
<path d="M696.7 302.9 L697.1 302.6 L697.4 302.0 L697.8 301.1 L698.3 299.9 L698.7 299.0 L699.0 298.5 L699.3 297.9 L699.7 298.1 L700.0 297.0 L699.7 296.1 L699.6 293.8 L699.7 292.3 L699.5 292.1 L699.4 291.6" stroke-width="4.29"/>
<path d="M699.4 291.6 L699.2 290.5 L699.5 290.5 L699.9 288.9 L700.0 289.3 L700.0 286.9 L699.8 288.2 L699.9 287.4 L700.1 287.6 L699.9 288.0 L699.8 287.4 L700.5 286.8 L700.9 286.7 L701.1 285.3 L701.5 287.5" stroke-width="4.35"/>
<path d="M701.5 287.5 L701.5 290.7 L701.5 292.9 L701.9 293.3 L701.8 294.2 L702.1 294.3 L702.3 294.2 L702.2 293.9 L702.4 295.0 L702.5 295.8 L702.8 296.8 L702.8 296.7 L703.5 298.7 L703.7 299.7 L704.2 301.4" stroke-width="4.31"/>
<path d="M704.2 301.4 L704.5 301.1 L704.9 299.7 L705.2 299.5 L705.2 298.7 L705.1 298.4 L705.1 297.9 L705.7 296.6 L706.2 294.8 L706.7 293.0 L706.3 294.4 L705.7 293.9 L705.2 293.6 L705.9 295.2 L706.2 294.6" stroke-width="4.30"/>
<path d="M706.2 294.6 L706.7 294.5 L706.8 292.6 L706.6 291.9 L706.7 290.4 L706.9 289.2 L707.1 288.7 L707.8 287.3 L707.8 286.1 L708.1 284.9 L708.4 285.0 L708.5 283.6 L708.9 283.0 L709.2 283.7 L709.5 280.5" stroke-width="4.35"/>
<path d="M709.5 280.5 L709.5 279.3 L709.8 277.3 L709.7 278.5 L709.7 280.2 L709.9 283.3 L710.3 282.4 L710.8 282.1 L711.0 281.1 L711.6 281.0 L712.2 282.2 L713.0 282.2 L713.5 282.9 L713.9 284.1 L714.5 284.5" stroke-width="4.39"/>
<path d="M714.5 284.5 L714.7 285.4 L714.8 285.7 L715.4 285.5 L715.9 288.1 L716.8 290.5 L717.4 291.7 L717.9 292.7 L718.3 292.1 L718.7 291.4 L718.5 289.3 L717.9 286.6 L717.7 284.8 L718.1 285.0 L718.4 285.8" stroke-width="4.35"/>
<path d="M718.4 285.8 L719.2 286.9 L719.3 285.8 L719.8 284.9 L720.2 284.8 L719.7 282.6 L719.3 281.0 L719.0 279.5 L719.3 277.9 L719.9 276.7 L720.6 275.1 L720.8 275.3 L720.8 274.6 L720.8 274.8 L720.7 273.9" stroke-width="4.39"/>
<path d="M720.7 273.9 L720.9 273.1 L721.0 272.9 L721.6 272.6 L722.2 272.2 L722.9 272.8 L722.8 272.9 L722.7 272.9 L722.8 272.9 L722.7 272.8 L722.8 271.4 L723.0 271.6 L723.1 274.1 L723.4 275.9 L723.8 278.6" stroke-width="4.43"/>
<path d="M723.8 278.6 L723.9 277.8 L724.2 278.2 L724.6 278.2 L724.5 279.9 L725.0 281.9 L725.2 284.7 L725.1 284.5 L725.4 282.1 L725.5 283.0 L725.3 283.5 L725.4 284.4 L725.9 286.3 L725.8 286.1 L725.3 287.1" stroke-width="4.38"/>
<path d="M725.3 287.1 L725.2 288.9 L725.8 288.4 L725.8 291.1 L726.3 289.7 L726.6 292.7 L726.7 294.3 L727.1 296.8 L726.4 294.8 L726.0 293.8 L725.6 293.9 L726.6 292.1 L727.5 290.8 L728.4 290.8 L728.2 288.8" stroke-width="4.33"/>
<path d="M728.2 288.8 L727.8 288.5 L727.2 287.2 L727.3 286.2 L727.0 283.6 L727.1 282.0 L726.7 281.4 L726.6 281.3 L726.6 280.7 L727.0 280.1 L727.6 279.2 L728.0 278.7 L728.2 277.7 L728.0 277.1 L728.0 275.6" stroke-width="4.38"/>
<path d="M728.0 275.6 L728.0 275.5 L728.1 275.9 L727.8 275.9 L727.9 275.0 L728.0 273.6 L728.2 271.5 L728.0 269.9 L728.0 270.0 L728.1 269.6 L728.1 268.1 L728.4 267.4 L728.2 265.9 L728.4 264.4 L728.7 263.3" stroke-width="4.45"/>
<path d="M728.7 263.3 L729.1 261.7 L728.6 262.9 L728.9 264.1 L728.8 265.7 L729.1 265.8 L729.5 264.9 L729.7 265.6 L729.7 262.6 L729.5 262.1 L729.5 260.8 L729.4 257.9 L729.4 258.0 L729.6 257.7 L729.8 257.9" stroke-width="4.50"/>
<path d="M729.8 257.9 L730.1 256.8 L730.0 257.2 L730.5 259.2 L730.4 262.3 L730.7 265.2 L730.7 266.8 L730.8 269.2 L730.5 269.3 L730.4 269.9 L730.8 268.7 L730.7 270.3 L730.7 271.6 L730.4 272.7 L730.3 273.9" stroke-width="4.47"/>
<path d="M730.3 273.9 L730.5 274.9 L730.2 275.5 L730.4 275.6 L730.3 277.6 L730.8 277.7 L730.7 278.5 L731.1 277.9 L731.2 277.9 L731.4 277.8 L731.7 278.6 L731.4 281.0 L731.5 282.7 L731.3 283.5 L731.5 283.3" stroke-width="4.40"/>
<path d="M731.5 283.3 L731.4 285.5 L731.3 283.3 L731.3 282.5 L731.0 282.5 L730.9 283.8 L730.9 284.4 L731.0 285.7 L731.5 286.2 L732.1 286.5 L732.2 287.1 L732.4 288.3 L732.7 289.0 L733.0 291.0 L733.1 292.5" stroke-width="4.36"/>
<path d="M733.1 292.5 L732.8 293.1 L732.8 295.6 L732.7 295.7 L732.1 294.9 L732.0 293.2 L732.6 291.5 L733.1 290.1 L733.5 288.8 L733.8 289.7 L733.9 291.2 L734.3 293.3 L734.5 291.5 L734.4 289.5 L734.3 288.7" stroke-width="4.33"/>
<path d="M734.3 288.7 L735.1 289.1 L735.4 288.6 L735.8 288.8 L735.9 286.2 L736.2 284.1 L736.2 281.3 L736.2 281.7 L736.4 283.1 L736.3 283.7 L736.4 283.3 L736.6 283.9 L736.8 283.3 L737.4 283.0 L738.0 282.1" stroke-width="4.37"/>
<path d="M738.0 282.1 L738.8 281.9 L739.0 279.3 L738.9 277.5 L739.3 273.9 L739.2 274.2 L739.0 274.2 L739.2 272.8 L739.5 272.4 L739.3 270.8 L739.7 270.7 L740.4 270.2 L740.7 270.9 L741.3 271.2 L741.6 270.4" stroke-width="4.43"/>
<path d="M741.6 270.4 L741.6 269.3 L742.1 269.2 L741.9 267.0 L742.1 265.4 L742.1 264.5 L742.6 262.0 L743.5 260.4 L744.0 259.2 L743.7 259.8 L743.4 260.8 L742.8 261.1 L742.8 259.1 L742.7 257.7 L742.6 256.7" stroke-width="4.49"/>
<path d="M742.6 256.7 L742.9 256.2 L743.5 256.4 L743.9 256.4 L743.7 256.4 L743.7 254.5 L743.3 254.1 L743.2 254.4 L743.7 253.9 L743.5 254.5 L743.5 252.9 L743.8 251.7 L743.5 250.4 L743.3 248.7 L743.1 246.9" stroke-width="4.54"/>
<path d="M743.1 246.9 L743.0 245.1 L742.9 244.1 L742.9 245.3 L743.0 243.8 L743.2 244.9 L743.5 245.8 L743.9 246.2 L744.3 243.2 L744.5 241.0 L745.2 239.3 L744.4 238.3 L743.9 237.8 L743.6 238.6 L744.0 238.5" stroke-width="4.60"/>
<path d="M744.0 238.5 L744.8 237.2 L745.3 237.9 L744.9 236.8 L744.7 237.2 L744.6 235.4 L744.3 234.1 L743.8 233.0 L743.8 230.3 L744.0 229.4 L744.5 226.9 L745.0 225.1 L744.9 224.0 L745.0 223.5 L745.2 222.5" stroke-width="4.60"/>
<path d="M745.2 222.5 L744.7 223.3 L744.7 223.0 L744.2 224.5 L744.0 223.2 L743.7 222.7 L743.5 222.5 L744.0 223.5 L744.5 224.2 L745.2 224.6 L745.1 220.9 L744.6 217.8 L744.4 213.6 L744.8 215.9 L745.2 216.2" stroke-width="4.60"/>
<path d="M745.2 216.2 L745.4 218.0 L745.3 216.1 L744.8 213.9 L744.0 215.2 L744.8 213.3 L745.1 212.1 L745.9 211.4 L745.7 212.4 L745.7 213.2 L745.9 215.4 L745.9 217.0 L745.7 218.5 L745.8 220.1 L746.2 220.1" stroke-width="4.60"/>
<path d="M746.2 220.1 L746.7 221.4 L747.0 221.1 L747.4 221.1 L747.4 222.3 L747.5 223.5 L747.8 224.9 L747.5 226.4 L747.5 228.3 L747.6 227.2 L747.6 226.4 L747.4 228.4 L748.0 228.5 L748.5 230.7 L748.9 231.9" stroke-width="4.60"/>
<path d="M748.9 231.9 L748.8 232.8 L748.4 231.7 L747.8 231.3 L748.9 231.0 L749.4 230.5 L749.9 230.6 L750.3 228.4 L750.4 230.8 L750.4 230.2 L750.9 229.2 L751.2 226.1 L751.8 225.1 L751.7 225.2 L751.5 225.2" stroke-width="4.60"/>
<path d="M751.5 225.2 L751.6 225.6 L751.7 225.2 L751.6 225.4 L751.9 226.4 L752.0 223.7 L752.1 222.3 L752.0 219.6 L752.0 219.7 L752.2 217.8 L752.6 217.4 L752.4 218.9 L751.9 219.6 L751.9 222.5 L752.9 221.2" stroke-width="4.60"/>
<path d="M752.9 221.2 L753.6 221.3 L754.4 221.8 L754.1 223.0 L754.2 223.8 L754.2 227.2 L753.9 225.2 L754.0 224.6 L753.9 223.3 L754.1 225.8 L754.1 228.8 L753.8 230.3 L754.8 230.4 L755.3 229.5 L756.1 229.5" stroke-width="4.60"/>
<path d="M756.1 229.5 L756.0 230.9 L756.2 230.6 L756.0 230.3 L755.8 232.4 L755.7 234.7 L755.6 236.2 L756.1 232.3 L756.7 229.6 L757.4 226.8 L757.7 228.9 L758.3 229.8 L758.7 232.2 L758.7 228.8 L758.4 227.8" stroke-width="4.60"/>
<path d="M758.4 227.8 L758.2 226.3 L758.3 225.6 L758.9 226.6 L759.2 226.0 L759.4 223.2 L759.2 221.2 L759.3 217.2 L759.3 218.0 L759.6 220.4 L759.8 221.2 L760.3 220.0 L761.3 221.1 L762.3 223.1 L763.5 221.3" stroke-width="4.60"/>
<path d="M763.5 221.3 L764.7 221.1 L765.6 220.3 L765.5 221.4 L765.2 220.9 L765.2 221.3 L765.5 222.5 L765.5 224.7 L765.6 226.0 L765.7 223.1 L766.1 221.3 L766.6 217.6 L766.2 214.9 L766.0 215.0 L766.0 213.8" stroke-width="4.60"/>
<path d="M766.0 213.8 L766.6 213.0 L766.7 211.8 L767.1 211.3 L767.5 211.6 L767.6 212.1 L767.8 211.8 L767.4 211.3 L767.0 211.3 L766.8 210.1 L766.5 207.9 L766.9 207.9 L766.8 206.8 L767.5 208.6 L767.7 207.5" stroke-width="4.60"/>
<path d="M767.7 207.5 L768.2 209.7 L768.3 205.6 L768.6 203.2 L769.0 201.2 L769.2 201.1 L769.0 201.5 L768.9 200.8 L769.5 200.8 L769.6 200.7 L769.9 201.7 L769.4 197.9 L769.0 195.3 L768.7 192.4 L769.2 192.8" stroke-width="4.60"/>
<path d="M769.2 192.8 L769.5 194.9 L770.2 196.7 L770.0 196.3 L770.1 197.5 L769.7 199.5 L769.9 196.1 L770.2 193.4 L770.7 191.6 L770.6 193.2 L770.7 193.0 L771.2 195.4 L770.7 194.9 L770.5 195.8 L770.2 198.1" stroke-width="4.60"/>
<path d="M770.2 198.1 L770.8 195.8 L771.0 197.3 L771.1 197.5 L771.0 200.7 L770.8 202.0 L770.7 204.8 L771.4 204.4 L771.6 203.5 L772.0 202.1 L772.2 204.1 L772.0 207.4 L771.7 210.3 L771.8 211.3 L772.0 212.8" stroke-width="4.60"/>
<path d="M772.0 212.8 L772.2 215.3 L772.6 214.2 L772.9 209.7 L772.9 209.1 L772.9 211.3 L773.0 213.1 L772.8 213.9 L773.3 214.2 L773.7 213.7 L774.3 213.8 L774.1 215.1 L773.6 219.0 L773.5 221.5 L774.0 221.9" stroke-width="4.60"/>
<path d="M774.0 221.9 L774.1 220.4 L774.6 220.6 L774.5 221.0 L774.5 221.8 L774.8 223.4 L774.4 225.4 L774.2 226.0 L773.9 226.9 L774.7 227.0 L775.1 227.2 L775.6 225.0 L775.9 225.3 L776.2 223.5 L776.1 222.5" stroke-width="4.60"/>
<path d="M776.1 222.5 L776.9 221.7 L777.2 221.2 L777.5 221.4 L777.9 218.8 L778.4 218.3 L779.0 217.8 L779.6 217.2 L780.3 216.2 L781.4 217.0 L781.1 214.7 L780.8 212.7 L780.9 211.0 L781.3 211.3 L782.1 212.0" stroke-width="4.60"/>
<path d="M782.1 212.0 L782.9 211.8 L782.6 210.8 L782.7 206.7 L782.5 204.2 L782.5 205.3 L782.1 206.6 L782.0 206.4 L781.9 207.3 L781.5 209.2 L781.5 210.4 L782.4 207.8 L783.6 206.0 L784.2 203.1 L784.0 201.6" stroke-width="4.60"/>
<path d="M784.0 201.6 L783.5 199.4 L782.9 196.3 L784.0 197.4 L784.6 197.8 L785.7 199.0 L785.6 197.5 L786.2 195.0 L786.4 192.1 L786.4 191.8 L786.5 191.0 L786.7 189.4 L786.8 190.1 L787.2 190.2 L787.7 190.4" stroke-width="4.60"/>
<path d="M787.7 190.4 L788.0 189.9 L788.4 192.0 L788.9 192.3 L789.3 192.8 L789.5 194.3 L789.5 193.3 L789.6 194.7 L789.6 193.9 L789.6 194.5 L789.4 194.6 L789.6 194.3 L789.7 194.8 L789.7 194.4 L789.8 195.9" stroke-width="4.60"/>
<path d="M789.8 195.9 L789.9 197.1 L790.5 199.6 L791.0 201.9 L791.5 206.2 L791.1 205.3 L790.9 205.4 L790.2 204.0 L790.8 204.0 L791.0 204.2 L791.2 203.2 L791.2 202.6 L790.9 202.9 L790.6 201.7 L790.6 201.4" stroke-width="4.60"/>
<path d="M790.6 201.4 L790.9 202.0 L791.5 202.1 L791.4 202.9 L791.2 206.5 L791.2 208.6 L791.5 206.8 L791.9 200.7 L792.5 196.5 L792.9 197.2 L793.1 197.4 L793.3 197.7 L793.5 196.2 L793.5 196.6 L793.6 197.2" stroke-width="4.60"/>
<path d="M793.6 197.2 L793.4 196.5 L793.3 195.1 L793.2 193.4 L793.5 191.9 L794.1 191.7 L794.6 189.8 L794.4 188.6 L794.3 187.2 L794.2 185.5 L794.4 184.0 L794.8 183.4 L794.9 183.3 L795.2 185.4 L795.4 188.4" stroke-width="4.60"/>
<path d="M795.4 188.4 L795.5 188.2 L795.4 185.9 L795.8 183.0 L795.9 180.0 L795.1 183.1 L794.8 185.1 L794.2 187.3 L794.7 185.7 L794.8 183.9 L795.4 182.2 L796.0 183.3 L796.6 187.1 L797.0 189.0 L797.1 190.2" stroke-width="4.60"/>
<path d="M797.1 190.2 L797.0 190.8 L796.7 191.4 L797.7 193.4 L798.3 194.9 L798.9 196.7 L798.6 194.5 L797.9 194.6 L797.6 192.5 L797.5 196.8 L797.5 197.3 L797.8 199.7 L798.4 200.8 L799.1 201.4 L799.4 202.6" stroke-width="4.60"/>
<path d="M799.4 202.6 L799.3 201.9 L799.7 199.8 L799.9 198.0 L800.2 198.8 L801.0 198.9 L801.8 199.2 L801.5 197.7 L801.8 195.2 L801.6 193.2 L801.8 193.5 L802.0 194.0 L802.2 190.5 L802.6 189.8 L803.4 191.3" stroke-width="4.60"/>
<path d="M803.4 191.3 L803.9 191.0 L803.8 188.7 L803.6 185.0 L803.3 182.9 L803.7 183.2 L803.8 185.0 L804.5 186.9 L804.3 185.3 L804.4 184.2 L804.8 182.8 L805.3 181.1 L805.3 180.2 L805.7 178.1 L806.0 179.4" stroke-width="4.60"/>
<path d="M806.0 179.4 L806.5 179.1 L807.0 178.7 L806.8 179.4 L806.7 182.0 L806.7 183.6 L807.3 182.8 L807.9 182.8 L808.4 182.9 L808.4 185.5 L808.5 186.0 L808.7 189.8 L809.1 188.8 L809.8 186.8 L810.4 185.2" stroke-width="4.60"/>
<path d="M810.4 185.2 L810.1 186.1 L809.2 185.9 L808.7 187.2 L809.9 190.3 L810.7 192.8 L811.5 196.7 L811.5 196.2 L811.8 196.7 L811.7 196.4 L811.7 197.7 L811.4 199.4 L811.3 199.5 L811.6 198.5 L812.5 196.7" stroke-width="4.60"/>
<path d="M812.5 196.7 L813.0 198.1 L812.9 198.3 L812.8 200.6 L812.6 204.6 L813.1 203.3 L813.5 204.4 L813.7 205.4 L813.9 206.6 L813.6 206.7 L813.9 208.1 L813.9 208.5 L814.0 207.9 L813.8 208.8 L813.9 210.5" stroke-width="4.60"/>
<path d="M813.9 210.5 L813.7 212.7 L813.6 213.3 L813.6 211.6 L813.7 210.0 L813.5 207.4 L813.8 205.0 L814.3 205.0 L814.7 202.8 L815.1 200.6 L815.1 200.8 L815.1 201.3 L815.4 204.4 L815.7 207.3 L816.0 210.8" stroke-width="4.60"/>
<path d="M816.0 210.8 L815.6 207.8 L815.6 208.1 L815.5 207.6 L816.4 208.0 L817.4 209.1 L818.3 209.0 L817.0 209.4 L816.1 210.0 L814.7 211.4 L815.5 212.0 L816.3 214.2 L817.1 216.1 L816.8 215.4 L816.5 215.9" stroke-width="4.60"/>
<path d="M816.5 215.9 L816.1 215.0 L816.0 216.5 L816.0 219.2 L816.2 220.2 L816.8 220.8 L816.8 221.7 L817.2 221.7 L817.2 222.3 L816.8 223.5 L816.8 223.8 L816.4 224.5 L816.1 223.9 L815.9 225.5 L816.5 228.0" stroke-width="4.60"/>
<path d="M816.5 228.0 L816.8 229.1 L817.3 230.5 L817.3 230.4 L816.9 230.7 L816.9 231.1 L816.6 233.6 L816.1 233.3 L816.1 234.7 L816.6 235.5 L817.1 236.8 L817.7 236.6 L817.1 237.7 L817.2 239.8 L817.0 238.5" stroke-width="4.60"/>
<path d="M817.0 238.5 L817.0 239.2 L817.1 237.2 L817.0 235.3 L817.6 238.2 L818.0 240.7 L818.3 240.2 L818.1 239.2 L818.4 238.9 L818.3 238.6 L818.3 238.3 L818.2 238.5 L818.1 238.9 L819.1 237.2 L819.5 235.0" stroke-width="4.60"/>
<path d="M819.5 235.0 L820.4 231.5 L820.0 231.4 L819.6 231.5 L819.3 231.7 L819.2 230.2 L818.9 230.3 L818.9 229.7 L819.0 229.2 L819.4 230.0 L819.6 231.3 L819.6 233.0 L819.4 234.5 L819.6 235.5 L819.4 236.7" stroke-width="4.60"/>
<path d="M819.4 236.7 L818.7 235.4 L818.2 235.1 L818.4 237.4 L818.9 238.9 L819.1 241.4 L819.1 240.4 L819.0 238.5 L819.1 238.1 L820.0 237.6 L821.1 237.7 L821.9 239.4 L821.2 242.3 L820.6 244.1 L820.2 248.2" stroke-width="4.60"/>
<path d="M820.2 248.2 L820.3 248.5 L820.4 248.3 L820.6 248.6 L820.6 249.3 L820.3 250.7 L820.3 250.8 L821.0 250.7 L821.4 251.9 L821.6 252.0 L821.3 253.1 L821.4 254.1 L821.0 255.3 L821.6 254.5 L822.1 254.1" stroke-width="4.56"/>
<path d="M822.1 254.1 L822.4 254.1 L822.3 256.7 L822.1 259.1 L822.0 261.5 L822.0 260.4 L822.4 260.1 L822.7 260.2 L822.2 262.3 L821.9 264.1 L821.7 265.4 L822.0 265.5 L821.9 265.6 L822.3 265.3 L822.0 265.1" stroke-width="4.50"/>
<path d="M822.0 265.1 L822.0 264.0 L822.0 263.3 L822.0 264.4 L822.1 266.3 L822.2 266.1 L821.9 269.7 L821.8 272.7 L821.6 274.5 L821.7 274.4 L822.1 273.7 L822.3 271.2 L822.4 270.9 L822.3 269.4 L822.3 268.2" stroke-width="4.46"/>
<path d="M822.3 268.2 L822.5 268.1 L822.5 267.9 L822.9 267.4 L823.1 265.4 L823.7 265.3 L824.2 264.3 L824.1 262.3 L823.8 262.2 L823.8 261.4 L824.1 261.3 L824.5 260.6 L824.7 260.3 L824.7 259.2 L824.8 260.1" stroke-width="4.49"/>
<path d="M824.8 260.1 L824.7 258.5 L824.8 258.9 L825.0 259.6 L825.1 259.6 L825.2 257.7 L825.2 256.4 L825.4 254.4 L825.1 254.3 L824.9 255.3 L824.6 255.6 L825.2 254.6 L825.4 253.8 L826.0 253.0 L825.8 252.9" stroke-width="4.53"/>
<path d="M825.8 252.9 L825.5 251.6 L825.3 250.9 L825.3 249.7 L825.7 248.7 L825.5 248.1 L826.1 245.8 L826.4 243.8 L827.1 243.3 L827.5 241.6 L827.8 240.6 L828.0 240.4 L827.3 239.1 L826.8 238.3 L826.1 238.3" stroke-width="4.59"/>
<path d="M826.1 238.3 L826.9 236.2 L827.9 234.6 L828.6 233.6 L828.5 234.6 L828.4 233.9 L828.2 233.8 L828.0 231.9 L827.8 231.1 L827.3 228.8 L827.9 231.0 L828.0 231.3 L828.6 232.4 L828.7 230.8 L828.7 230.1" stroke-width="4.60"/>
<path d="M828.7 230.1 L828.9 228.4 L828.8 227.4 L829.0 225.2 L829.3 223.3 L829.3 222.1 L829.2 219.4 L829.1 217.6 L828.8 219.0 L828.8 218.7 L828.6 220.1 L829.3 219.6 L829.7 218.2 L830.1 216.6 L830.5 214.6" stroke-width="4.60"/>
<path d="M830.5 214.6 L830.7 214.9 L831.0 212.3 L830.9 212.6 L830.9 211.0 L831.4 211.9 L831.5 211.3 L831.8 212.3 L832.0 211.1 L832.2 214.6 L832.7 217.8 L833.2 221.4 L832.7 220.8 L832.5 220.6 L832.3 221.7" stroke-width="4.60"/>
<path d="M832.3 221.7 L832.9 224.7 L833.4 227.1 L833.8 230.2 L833.8 227.4 L834.5 224.9 L834.9 221.5 L835.3 221.4 L835.4 219.1 L836.1 218.4 L836.2 219.9 L836.1 219.9 L836.0 221.3 L836.2 221.9 L836.4 220.9" stroke-width="4.60"/>
<path d="M836.4 220.9 L836.6 220.6 L836.5 222.7 L836.7 221.9 L836.6 223.1 L837.3 223.6 L837.8 225.2 L838.3 224.3 L837.4 224.9 L836.6 225.1 L835.8 225.6 L836.5 228.8 L836.9 230.7 L837.7 233.5 L838.1 233.6" stroke-width="4.60"/>
<path d="M838.1 233.6 L838.8 234.2 L839.6 234.2 L839.2 236.2 L838.9 237.5 L838.5 238.6 L838.1 237.6 L837.5 236.2 L837.4 235.5 L838.0 236.3 L838.6 236.9 L839.1 239.0 L838.7 238.3 L838.6 238.2 L838.1 239.2" stroke-width="4.60"/>
<path d="M838.1 239.2 L838.4 241.5 L838.8 243.0 L839.4 245.1 L839.5 244.2 L839.7 243.9 L840.3 243.0 L840.5 244.3 L841.2 247.7 L841.4 248.4 L841.2 250.3 L841.3 251.5 L841.0 253.0 L841.3 253.7 L841.6 255.3" stroke-width="4.58"/>
<path d="M841.6 255.3 L841.5 255.7 L841.7 253.6 L842.1 253.7 L842.2 252.5 L842.0 254.5 L842.3 256.3 L842.1 258.9 L842.1 259.4 L841.8 257.8 L841.7 257.0 L842.3 256.2 L842.4 255.9 L842.7 254.8 L842.9 253.2" stroke-width="4.53"/>
<path d="M842.9 253.2 L843.4 252.0 L843.6 250.4 L843.7 252.8 L843.7 253.0 L843.5 254.9 L843.7 255.5 L843.8 254.5 L844.0 254.0 L844.1 251.1 L844.4 249.5 L844.3 246.1 L844.5 245.8 L844.3 245.2 L844.1 244.7" stroke-width="4.56"/>
<path d="M844.1 244.7 L844.6 243.8 L844.8 243.0 L844.9 243.4 L845.4 243.9 L845.7 246.1 L846.0 246.9 L846.3 245.2 L846.3 243.3 L846.6 242.8 L847.2 239.3 L847.9 236.4 L848.2 234.8 L848.9 235.4 L849.8 232.8" stroke-width="4.60"/>
<path d="M849.8 232.8 L850.5 230.4 L850.3 231.6 L850.1 234.1 L849.9 234.7 L850.2 237.6 L850.0 240.0 L850.2 243.0 L849.9 243.1 L849.8 245.3 L849.6 247.5 L849.6 246.0 L849.9 244.5 L849.9 242.9 L850.2 244.2" stroke-width="4.60"/>
<path d="M850.2 244.2 L850.6 244.6 L851.1 245.8 L851.0 245.3 L850.6 246.1 L850.6 246.8 L851.0 247.2 L851.2 245.9 L851.7 243.4 L851.7 243.3 L851.3 246.0 L851.1 247.7 L851.7 245.9 L851.8 242.6 L852.2 240.5" stroke-width="4.59"/>
<path d="M852.2 240.5 L852.5 241.6 L852.5 242.9 L852.8 243.6 L853.1 240.5 L853.4 237.6 L853.9 235.3 L853.7 235.0 L853.5 234.0 L853.1 232.7 L853.3 233.5 L853.4 234.0 L853.7 235.8 L853.7 233.8 L854.2 231.5" stroke-width="4.60"/>
<path d="M854.2 231.5 L854.3 230.0 L854.5 231.0 L854.5 231.0 L854.6 231.7 L855.1 230.2 L855.9 228.9 L856.2 226.9 L855.8 226.1 L855.5 224.4 L855.2 221.4 L855.2 222.9 L855.4 223.1 L855.6 224.5 L855.5 224.1" stroke-width="4.60"/>
<path d="M855.5 224.1 L856.2 224.9 L856.5 225.6 L857.1 223.7 L857.8 222.8 L858.2 220.3 L858.7 224.8 L859.0 228.4 L859.4 232.9 L860.1 230.9 L860.2 232.3 L860.8 230.4 L860.8 232.1 L860.5 231.7 L860.6 231.2" stroke-width="4.60"/>
<path d="M860.6 231.2 L861.8 228.0 L863.1 223.9 L864.4 221.9 L864.7 221.7 L864.5 222.5 L865.0 222.7 L864.9 222.5 L864.6 223.8 L864.5 224.7 L864.2 227.0 L864.2 228.6 L864.2 230.9 L864.8 229.5 L865.2 227.0" stroke-width="4.60"/>
<path d="M865.2 227.0 L865.5 225.8 L865.8 227.9 L866.2 228.9 L866.7 230.4 L865.9 229.6 L865.6 228.1 L865.2 230.0 L866.0 232.4 L866.8 233.2 L867.2 235.7 L867.2 236.3 L867.1 237.5 L867.0 237.9 L867.5 237.7" stroke-width="4.60"/>
<path d="M867.5 237.7 L868.4 237.9 L868.7 236.6 L869.2 238.0 L870.0 238.8 L870.4 239.2 L870.6 239.0 L870.9 238.7 L871.4 238.7 L871.2 239.3 L870.8 239.3 L870.6 239.9 L871.8 237.6 L872.3 237.3 L873.5 238.2" stroke-width="4.60"/>
<path d="M873.5 238.2 L873.4 238.4 L873.5 237.7 L873.6 236.8 L873.7 237.9 L873.3 237.0 L873.5 238.4 L873.8 238.6 L874.0 238.7 L874.4 240.2 L874.8 239.1 L875.4 239.6 L875.6 239.4 L875.5 239.2 L875.2 237.8" stroke-width="4.60"/>
<path d="M875.2 237.8 L874.8 238.6 L875.2 237.3 L875.2 236.8 L875.4 236.2 L875.7 237.0 L875.5 237.2 L875.7 237.7 L876.3 236.5 L876.5 234.1 L877.4 232.8 L876.4 230.4 L876.1 228.0 L875.3 227.0 L876.4 231.3" stroke-width="4.60"/>
<path d="M876.4 231.3 L877.2 234.4 L878.0 237.1 L877.4 237.7 L876.9 237.7 L876.7 238.8 L877.3 237.2 L877.7 238.1 L878.3 237.8 L877.8 237.8 L877.3 238.3 L876.8 238.0 L876.7 236.7 L877.1 237.4 L877.3 237.9" stroke-width="4.60"/>
<path d="M877.3 237.9 L877.6 238.1 L877.7 239.6 L877.8 242.1 L878.2 244.2 L878.7 245.6 L878.9 248.7 L878.5 248.7 L878.1 247.3 L877.6 247.0 L878.4 246.9 L878.9 248.1 L879.2 247.8 L879.3 250.1 L879.2 251.8" stroke-width="4.59"/>
<path d="M879.2 251.8 L878.8 252.9 L879.3 254.0" stroke-width="4.55"/>
</g>
<circle cx="96.4" cy="485.3" r="6.3" fill="#bdd6ee"/>
<circle cx="235.5" cy="436.4" r="6.3" fill="#bdd6ee"/>
<circle cx="409.4" cy="409.1" r="6.3" fill="#bdd6ee"/>
<circle cx="536.2" cy="317.3" r="6.3" fill="#bdd6ee"/>
<circle cx="667.4" cy="337.1" r="6.3" fill="#bdd6ee"/>
<circle cx="116.4" cy="489.3" r="6.2" fill="#c00000"/>
<circle cx="241.3" cy="454.1" r="6.2" fill="#c00000"/>
<circle cx="421.8" cy="416.2" r="6.2" fill="#c00000"/>
<circle cx="560.4" cy="324.3" r="6.2" fill="#c00000"/>
<circle cx="685.3" cy="337.0" r="6.2" fill="#c00000"/>
<rect x="97.5" y="496.5" width="118.0" height="19.0" rx="2.5" fill="#fff" stroke="#11578f" stroke-width="1" stroke-dasharray="3 1"/>
<text class="lab" transform="translate(113.7 510.7) scale(1 0.95)">时间差</text>
<text class="lab num" transform="translate(153.1 511.1) scale(1 1.0)">1.3</text>
<text class="lab" transform="translate(172.4 510.7) scale(1 0.95)">个月</text>
<rect x="198.5" y="463.5" width="119.0" height="14.0" rx="2.5" fill="#fff" stroke="#11578f" stroke-width="1" stroke-dasharray="3 1"/>
<text class="lab" transform="translate(215.2 475.2) scale(1 0.95)">时间差</text>
<text class="lab num" transform="translate(254.6 475.6) scale(1 1.0)">1.6</text>
<text class="lab" transform="translate(273.9 475.2) scale(1 0.95)">个月</text>
<rect x="372.5" y="427.5" width="118.0" height="15.0" rx="2.5" fill="#fff" stroke="#11578f" stroke-width="1" stroke-dasharray="3 1"/>
<text class="lab" transform="translate(388.7 439.7) scale(1 0.95)">时间差</text>
<text class="lab num" transform="translate(428.1 440.1) scale(1 1.0)">2.3</text>
<text class="lab" transform="translate(447.4 439.7) scale(1 0.95)">个月</text>
<rect x="510.5" y="331.5" width="119.0" height="14.0" rx="2.5" fill="#fff" stroke="#11578f" stroke-width="1" stroke-dasharray="3 1"/>
<text class="lab" transform="translate(527.2 342.8) scale(1 0.86)">时间差</text>
<text class="lab num" transform="translate(566.7 343.2) scale(1 0.92)">6.8</text>
<text class="lab" transform="translate(585.9 342.8) scale(1 0.86)">个月</text>
<rect x="631.5" y="346.5" width="119.0" height="14.0" rx="2.5" fill="#fff" stroke="#11578f" stroke-width="1" stroke-dasharray="3 1"/>
<text class="lab" transform="translate(648.2 358.0) scale(1 0.91)">时间差</text>
<text class="lab num" transform="translate(687.7 358.5) scale(1 0.98)">2.6</text>
<text class="lab" transform="translate(706.9 358.0) scale(1 0.91)">个月</text>
<rect x="97.1" y="235.0" width="118.9" height="44.7" rx="5" fill="#c00000"/>
<path d="M115.7 279.2 H147.1 V296.5 Z" fill="#c00000"/>
<rect x="101.8" y="238.2" width="109.3" height="18.5" rx="3" fill="#f2f2f2"/>
<text class="pct" x="156.9" y="253.8" text-anchor="middle">+601%</text>
<text class="dur" x="158.2" y="271.9" text-anchor="middle">行情持续<tspan class="dnum">918</tspan>日</text>
<rect x="219.0" y="295.0" width="119.1" height="43.9" rx="5" fill="#c00000"/>
<path d="M237.6 338.4 H269.0 V355.7 Z" fill="#c00000"/>
<rect x="223.8" y="298.2" width="109.3" height="18.4" rx="3" fill="#f2f2f2"/>
<text class="pct" x="278.9" y="313.8" text-anchor="middle">+131%</text>
<text class="dur" x="280.2" y="331.9" text-anchor="middle">行情持续<tspan class="dnum">385</tspan>日</text>
<rect x="386.8" y="209.2" width="119.1" height="43.5" rx="5" fill="#c00000"/>
<path d="M405.4 252.2 H436.8 V269.5 Z" fill="#c00000"/>
<rect x="391.6" y="212.4" width="109.3" height="18.5" rx="3" fill="#f2f2f2"/>
<text class="pct" x="446.7" y="228.0" text-anchor="middle">+274%</text>
<text class="dur" x="448.1" y="246.1" text-anchor="middle">行情持续<tspan class="dnum">921</tspan>日</text>
<rect x="536.3" y="175.0" width="118.6" height="44.7" rx="5" fill="#c00000"/>
<path d="M554.8 219.2 H586.1 V236.5 Z" fill="#c00000"/>
<rect x="540.8" y="178.2" width="109.3" height="19.8" rx="3" fill="#f2f2f2"/>
<text class="pct" x="595.9" y="195.2" text-anchor="middle">+32%</text>
<text class="dur" x="597.3" y="211.9" text-anchor="middle">行情持续<tspan class="dnum">656</tspan>日</text>
<rect x="688.0" y="130.0" width="121.1" height="44.2" rx="5" fill="#c00000"/>
<path d="M706.9 173.7 H738.9 V191.0 Z" fill="#c00000"/>
<rect x="693.8" y="133.2" width="109.3" height="18.5" rx="3" fill="#f2f2f2"/>
<text class="pct" x="748.8" y="148.8" text-anchor="middle">+87%</text>
<text class="dur" x="748.5" y="166.9" text-anchor="middle">行情持续<tspan class="dnum">1075</tspan>日</text>
<rect x="242.9" y="29.7" width="388.9" height="33.8" rx="4" fill="#004c97"/>
<text class="ttl" x="437.8" y="52" text-anchor="middle"><tspan class="tnum">2005</tspan>年以来，<tspan class="tnum">5</tspan>次重磅政策出台与市场阶段性低点</text>
<path d="M198.6 568.2 H248.5" stroke="#4a8ec8" stroke-width="1" fill="none"/>
<text class="leg" x="258" y="572.8">万得全A指数</text>
<circle cx="434.8" cy="566.2" r="6.3" fill="#bdd6ee"/>
<text class="leg" x="449" y="571.2">政策发力点</text>
<circle cx="625.9" cy="565.2" r="6.2" fill="#c00000"/>
<text class="leg" x="641" y="570.4">市场阶段低点</text>
</g>
</svg>
</body>
</html>
